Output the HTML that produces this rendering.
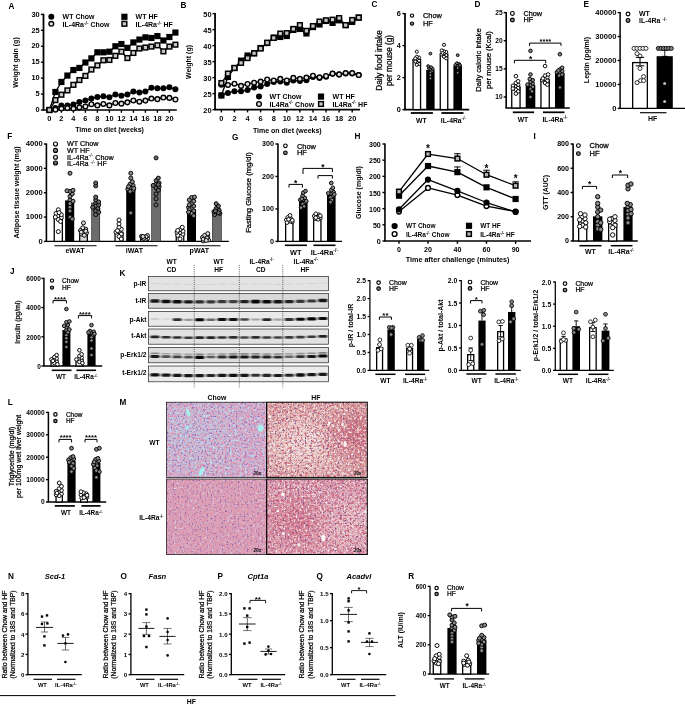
<!DOCTYPE html>
<html lang="en"><head><meta charset="utf-8"><title>Figure</title>
<style>html,body{margin:0;padding:0;background:#fff}svg{display:block}text{font-family:"Liberation Sans", Arial, sans-serif;fill:#000}</style></head>
<body>
<svg width="685" height="705" viewBox="0 0 685 705">
<defs><filter id="bl" x="-5%" y="-50%" width="110%" height="200%"><feGaussianBlur stdDeviation="0.85 0.7"/></filter><clipPath id="kc0"><rect x="148.8" y="277.00" width="179.2" height="13.40"/></clipPath><clipPath id="kc1"><rect x="148.8" y="294.00" width="179.2" height="13.80"/></clipPath><clipPath id="kc2"><rect x="148.8" y="312.00" width="179.2" height="13.80"/></clipPath><clipPath id="kc3"><rect x="148.8" y="329.40" width="179.2" height="14.40"/></clipPath><clipPath id="kc4"><rect x="148.8" y="347.80" width="179.2" height="14.60"/></clipPath><clipPath id="kc5"><rect x="148.8" y="366.40" width="179.2" height="15.00"/></clipPath><filter id="nPurp" x="0" y="0" width="100%" height="100%" color-interpolation-filters="sRGB"><feTurbulence type="fractalNoise" baseFrequency="0.55" numOctaves="2" seed="3"/><feColorMatrix type="matrix" values="0 0 0 0 0.560  0 0 0 0 0.400  0 0 0 0 0.740  4.00 0 0 0 -2.20"/><feGaussianBlur stdDeviation="0.30"/></filter><filter id="nPurp2" x="0" y="0" width="100%" height="100%" color-interpolation-filters="sRGB"><feTurbulence type="fractalNoise" baseFrequency="0.55" numOctaves="2" seed="33"/><feColorMatrix type="matrix" values="0 0 0 0 0.600  0 0 0 0 0.380  0 0 0 0 0.680  4.00 0 0 0 -2.25"/><feGaussianBlur stdDeviation="0.30"/></filter><filter id="nCyan" x="0" y="0" width="100%" height="100%" color-interpolation-filters="sRGB"><feTurbulence type="fractalNoise" baseFrequency="0.4" numOctaves="2" seed="11"/><feColorMatrix type="matrix" values="0 0 0 0 0.740  0 0 0 0 0.880  0 0 0 0 0.940  4.00 0 0 0 -2.10"/><feGaussianBlur stdDeviation="0.30"/></filter><filter id="nCyan2" x="0" y="0" width="100%" height="100%" color-interpolation-filters="sRGB"><feTurbulence type="fractalNoise" baseFrequency="0.4" numOctaves="2" seed="12"/><feColorMatrix type="matrix" values="0 0 0 0 0.840  0 0 0 0 0.860  0 0 0 0 0.930  4.00 0 0 0 -2.40"/><feGaussianBlur stdDeviation="0.30"/></filter><filter id="nPink" x="0" y="0" width="100%" height="100%" color-interpolation-filters="sRGB"><feTurbulence type="fractalNoise" baseFrequency="0.45" numOctaves="2" seed="5"/><feColorMatrix type="matrix" values="0 0 0 0 0.930  0 0 0 0 0.580  0 0 0 0 0.680  4.00 0 0 0 -1.90"/><feGaussianBlur stdDeviation="0.30"/></filter><filter id="nPink2" x="0" y="0" width="100%" height="100%" color-interpolation-filters="sRGB"><feTurbulence type="fractalNoise" baseFrequency="0.45" numOctaves="2" seed="6"/><feColorMatrix type="matrix" values="0 0 0 0 0.900  0 0 0 0 0.580  0 0 0 0 0.660  4.00 0 0 0 -1.90"/><feGaussianBlur stdDeviation="0.30"/></filter><filter id="nWhite" x="0" y="0" width="100%" height="100%" color-interpolation-filters="sRGB"><feTurbulence type="fractalNoise" baseFrequency="0.5" numOctaves="2" seed="21"/><feColorMatrix type="matrix" values="0 0 0 0 0.970  0 0 0 0 0.930  0 0 0 0 0.900  4.00 0 0 0 -2.05"/><feGaussianBlur stdDeviation="0.30"/></filter><filter id="nWhite2" x="0" y="0" width="100%" height="100%" color-interpolation-filters="sRGB"><feTurbulence type="fractalNoise" baseFrequency="0.32" numOctaves="2" seed="8"/><feColorMatrix type="matrix" values="0 0 0 0 0.960  0 0 0 0 0.900  0 0 0 0 0.870  4.00 0 0 0 -2.05"/><feGaussianBlur stdDeviation="0.30"/></filter><filter id="nWhiteB" x="0" y="0" width="100%" height="100%" color-interpolation-filters="sRGB"><feTurbulence type="fractalNoise" baseFrequency="0.5" numOctaves="2" seed="22"/><feColorMatrix type="matrix" values="0 0 0 0 0.970  0 0 0 0 0.930  0 0 0 0 0.920  4.00 0 0 0 -2.15"/><feGaussianBlur stdDeviation="0.30"/></filter><filter id="nWhiteB2" x="0" y="0" width="100%" height="100%" color-interpolation-filters="sRGB"><feTurbulence type="fractalNoise" baseFrequency="0.32" numOctaves="2" seed="9"/><feColorMatrix type="matrix" values="0 0 0 0 0.960  0 0 0 0 0.900  0 0 0 0 0.900  4.00 0 0 0 -2.30"/><feGaussianBlur stdDeviation="0.30"/></filter><filter id="nRed" x="0" y="0" width="100%" height="100%" color-interpolation-filters="sRGB"><feTurbulence type="fractalNoise" baseFrequency="0.4" numOctaves="2" seed="17"/><feColorMatrix type="matrix" values="0 0 0 0 0.820  0 0 0 0 0.400  0 0 0 0 0.460  4.00 0 0 0 -2.00"/><feGaussianBlur stdDeviation="0.30"/></filter><filter id="nRedB" x="0" y="0" width="100%" height="100%" color-interpolation-filters="sRGB"><feTurbulence type="fractalNoise" baseFrequency="0.4" numOctaves="2" seed="18"/><feColorMatrix type="matrix" values="0 0 0 0 0.820  0 0 0 0 0.360  0 0 0 0 0.460  4.00 0 0 0 -2.00"/><feGaussianBlur stdDeviation="0.30"/></filter><filter id="nDark" x="0" y="0" width="100%" height="100%" color-interpolation-filters="sRGB"><feTurbulence type="fractalNoise" baseFrequency="0.6" numOctaves="2" seed="29"/><feColorMatrix type="matrix" values="0 0 0 0 0.500  0 0 0 0 0.330  0 0 0 0 0.550  4.00 0 0 0 -2.20"/><feGaussianBlur stdDeviation="0.30"/></filter><radialGradient id="gPale" cx="0.38" cy="0.55" r="0.55"><stop offset="0" stop-color="#f3e6e2" stop-opacity="0.9"/><stop offset="1" stop-color="#f3e4df" stop-opacity="0"/></radialGradient><radialGradient id="gRed" cx="0.88" cy="0.45" r="0.42"><stop offset="0" stop-color="#c4546c" stop-opacity="0.75"/><stop offset="1" stop-color="#c4546c" stop-opacity="0"/></radialGradient><radialGradient id="gRed2" cx="0.3" cy="0.55" r="0.45"><stop offset="0" stop-color="#c84a68" stop-opacity="0.4"/><stop offset="1" stop-color="#c84a68" stop-opacity="0"/></radialGradient><radialGradient id="gPale2" cx="0.8" cy="0.6" r="0.45"><stop offset="0" stop-color="#f0dcdc" stop-opacity="0.55"/><stop offset="1" stop-color="#f0dcdc" stop-opacity="0"/></radialGradient><radialGradient id="gBlue" cx="0.25" cy="0.45" r="0.7"><stop offset="0" stop-color="#b4d2e6" stop-opacity="0.55"/><stop offset="1" stop-color="#b4d2e6" stop-opacity="0"/></radialGradient></defs>
<rect width="685" height="705" fill="#fff"/>
<g>
<text x="8.60" y="8.80" font-size="8.20" font-weight="bold">A</text>
<line x1="43.50" y1="13.80" x2="43.50" y2="110.50" stroke="#000" stroke-width="1.80"/>
<line x1="40.90" y1="110.00" x2="43.50" y2="110.00" stroke="#000" stroke-width="1.40"/>
<text x="39.70" y="112.22" font-size="7.40" text-anchor="end" font-weight="bold">0</text>
<line x1="40.90" y1="94.07" x2="43.50" y2="94.07" stroke="#000" stroke-width="1.40"/>
<text x="39.70" y="96.29" font-size="7.40" text-anchor="end" font-weight="bold">5</text>
<line x1="40.90" y1="78.13" x2="43.50" y2="78.13" stroke="#000" stroke-width="1.40"/>
<text x="39.70" y="80.35" font-size="7.40" text-anchor="end" font-weight="bold">10</text>
<line x1="40.90" y1="62.20" x2="43.50" y2="62.20" stroke="#000" stroke-width="1.40"/>
<text x="39.70" y="64.42" font-size="7.40" text-anchor="end" font-weight="bold">15</text>
<line x1="40.90" y1="46.27" x2="43.50" y2="46.27" stroke="#000" stroke-width="1.40"/>
<text x="39.70" y="48.49" font-size="7.40" text-anchor="end" font-weight="bold">20</text>
<line x1="40.90" y1="30.33" x2="43.50" y2="30.33" stroke="#000" stroke-width="1.40"/>
<text x="39.70" y="32.55" font-size="7.40" text-anchor="end" font-weight="bold">25</text>
<line x1="40.90" y1="14.40" x2="43.50" y2="14.40" stroke="#000" stroke-width="1.40"/>
<text x="39.70" y="16.62" font-size="7.40" text-anchor="end" font-weight="bold">30</text>
<line x1="42.60" y1="110.00" x2="176.80" y2="110.00" stroke="#000" stroke-width="1.70"/>
<line x1="49.40" y1="110.00" x2="49.40" y2="112.80" stroke="#000" stroke-width="1.40"/>
<text x="49.40" y="120.80" font-size="7.40" text-anchor="middle" font-weight="bold">0</text>
<line x1="61.40" y1="110.00" x2="61.40" y2="112.80" stroke="#000" stroke-width="1.40"/>
<text x="61.40" y="120.80" font-size="7.40" text-anchor="middle" font-weight="bold">2</text>
<line x1="73.40" y1="110.00" x2="73.40" y2="112.80" stroke="#000" stroke-width="1.40"/>
<text x="73.40" y="120.80" font-size="7.40" text-anchor="middle" font-weight="bold">4</text>
<line x1="85.40" y1="110.00" x2="85.40" y2="112.80" stroke="#000" stroke-width="1.40"/>
<text x="85.40" y="120.80" font-size="7.40" text-anchor="middle" font-weight="bold">6</text>
<line x1="97.40" y1="110.00" x2="97.40" y2="112.80" stroke="#000" stroke-width="1.40"/>
<text x="97.40" y="120.80" font-size="7.40" text-anchor="middle" font-weight="bold">8</text>
<line x1="109.40" y1="110.00" x2="109.40" y2="112.80" stroke="#000" stroke-width="1.40"/>
<text x="109.40" y="120.80" font-size="7.40" text-anchor="middle" font-weight="bold">10</text>
<line x1="121.40" y1="110.00" x2="121.40" y2="112.80" stroke="#000" stroke-width="1.40"/>
<text x="121.40" y="120.80" font-size="7.40" text-anchor="middle" font-weight="bold">12</text>
<line x1="133.40" y1="110.00" x2="133.40" y2="112.80" stroke="#000" stroke-width="1.40"/>
<text x="133.40" y="120.80" font-size="7.40" text-anchor="middle" font-weight="bold">14</text>
<line x1="145.40" y1="110.00" x2="145.40" y2="112.80" stroke="#000" stroke-width="1.40"/>
<text x="145.40" y="120.80" font-size="7.40" text-anchor="middle" font-weight="bold">16</text>
<line x1="157.40" y1="110.00" x2="157.40" y2="112.80" stroke="#000" stroke-width="1.40"/>
<text x="157.40" y="120.80" font-size="7.40" text-anchor="middle" font-weight="bold">18</text>
<line x1="169.40" y1="110.00" x2="169.40" y2="112.80" stroke="#000" stroke-width="1.40"/>
<text x="169.40" y="120.80" font-size="7.40" text-anchor="middle" font-weight="bold">20</text>
<text x="109.60" y="132.00" font-size="7.00" text-anchor="middle" font-weight="bold">Time on diet (weeks)</text>
<text x="18.20" y="62.50" font-size="7.00" text-anchor="middle" font-weight="bold" transform="rotate(-90 18.20 62.50)">Weight gain (g)</text>
<polyline points="49.40,110.00 55.40,108.09 61.40,105.54 67.40,105.54 73.40,104.42 79.40,102.03 85.40,100.44 91.40,98.53 97.40,96.93 103.40,96.30 109.40,97.25 115.40,94.39 121.40,95.66 127.40,94.39 133.40,91.52 139.40,92.47 145.40,91.52 151.40,87.69 157.40,88.33 163.40,88.33 169.40,87.37 175.40,89.29" fill="none" stroke="#000" stroke-width="1.30" stroke-linejoin="round"/>
<circle cx="49.40" cy="110.00" r="3.00" fill="#000"/>
<circle cx="55.40" cy="108.09" r="3.00" fill="#000"/>
<circle cx="61.40" cy="105.54" r="3.00" fill="#000"/>
<circle cx="67.40" cy="105.54" r="3.00" fill="#000"/>
<circle cx="73.40" cy="104.42" r="3.00" fill="#000"/>
<circle cx="79.40" cy="102.03" r="3.00" fill="#000"/>
<circle cx="85.40" cy="100.44" r="3.00" fill="#000"/>
<circle cx="91.40" cy="98.53" r="3.00" fill="#000"/>
<circle cx="97.40" cy="96.93" r="3.00" fill="#000"/>
<circle cx="103.40" cy="96.30" r="3.00" fill="#000"/>
<circle cx="109.40" cy="97.25" r="3.00" fill="#000"/>
<circle cx="115.40" cy="94.39" r="3.00" fill="#000"/>
<circle cx="121.40" cy="95.66" r="3.00" fill="#000"/>
<circle cx="127.40" cy="94.39" r="3.00" fill="#000"/>
<circle cx="133.40" cy="91.52" r="3.00" fill="#000"/>
<circle cx="139.40" cy="92.47" r="3.00" fill="#000"/>
<circle cx="145.40" cy="91.52" r="3.00" fill="#000"/>
<circle cx="151.40" cy="87.69" r="3.00" fill="#000"/>
<circle cx="157.40" cy="88.33" r="3.00" fill="#000"/>
<circle cx="163.40" cy="88.33" r="3.00" fill="#000"/>
<circle cx="169.40" cy="87.37" r="3.00" fill="#000"/>
<circle cx="175.40" cy="89.29" r="3.00" fill="#000"/>
<polyline points="49.40,110.00 55.40,109.68 61.40,108.57 67.40,108.09 73.40,108.57 79.40,107.45 85.40,106.49 91.40,104.26 97.40,105.38 103.40,103.95 109.40,105.38 115.40,102.99 121.40,103.63 127.40,102.35 133.40,100.44 139.40,101.71 145.40,100.60 151.40,98.53 157.40,99.17 163.40,97.57 169.40,97.89 175.40,99.48" fill="none" stroke="#000" stroke-width="1.30" stroke-linejoin="round"/>
<circle cx="49.40" cy="110.00" r="2.35" fill="#e2e2e2" stroke="#000" stroke-width="1.40"/>
<circle cx="55.40" cy="109.68" r="2.35" fill="#e2e2e2" stroke="#000" stroke-width="1.40"/>
<circle cx="61.40" cy="108.57" r="2.35" fill="#e2e2e2" stroke="#000" stroke-width="1.40"/>
<circle cx="67.40" cy="108.09" r="2.35" fill="#e2e2e2" stroke="#000" stroke-width="1.40"/>
<circle cx="73.40" cy="108.57" r="2.35" fill="#e2e2e2" stroke="#000" stroke-width="1.40"/>
<circle cx="79.40" cy="107.45" r="2.35" fill="#e2e2e2" stroke="#000" stroke-width="1.40"/>
<circle cx="85.40" cy="106.49" r="2.35" fill="#e2e2e2" stroke="#000" stroke-width="1.40"/>
<circle cx="91.40" cy="104.26" r="2.35" fill="#e2e2e2" stroke="#000" stroke-width="1.40"/>
<circle cx="97.40" cy="105.38" r="2.35" fill="#e2e2e2" stroke="#000" stroke-width="1.40"/>
<circle cx="103.40" cy="103.95" r="2.35" fill="#e2e2e2" stroke="#000" stroke-width="1.40"/>
<circle cx="109.40" cy="105.38" r="2.35" fill="#e2e2e2" stroke="#000" stroke-width="1.40"/>
<circle cx="115.40" cy="102.99" r="2.35" fill="#e2e2e2" stroke="#000" stroke-width="1.40"/>
<circle cx="121.40" cy="103.63" r="2.35" fill="#e2e2e2" stroke="#000" stroke-width="1.40"/>
<circle cx="127.40" cy="102.35" r="2.35" fill="#e2e2e2" stroke="#000" stroke-width="1.40"/>
<circle cx="133.40" cy="100.44" r="2.35" fill="#e2e2e2" stroke="#000" stroke-width="1.40"/>
<circle cx="139.40" cy="101.71" r="2.35" fill="#e2e2e2" stroke="#000" stroke-width="1.40"/>
<circle cx="145.40" cy="100.60" r="2.35" fill="#e2e2e2" stroke="#000" stroke-width="1.40"/>
<circle cx="151.40" cy="98.53" r="2.35" fill="#e2e2e2" stroke="#000" stroke-width="1.40"/>
<circle cx="157.40" cy="99.17" r="2.35" fill="#e2e2e2" stroke="#000" stroke-width="1.40"/>
<circle cx="163.40" cy="97.57" r="2.35" fill="#e2e2e2" stroke="#000" stroke-width="1.40"/>
<circle cx="169.40" cy="97.89" r="2.35" fill="#e2e2e2" stroke="#000" stroke-width="1.40"/>
<circle cx="175.40" cy="99.48" r="2.35" fill="#e2e2e2" stroke="#000" stroke-width="1.40"/>
<polyline points="49.40,110.00 55.40,92.00 61.40,81.96 67.40,75.58 73.40,70.01 79.40,67.94 85.40,62.52 91.40,58.38 97.40,52.32 103.40,52.32 109.40,51.68 115.40,46.27 121.40,44.04 127.40,47.86 133.40,42.44 139.40,39.57 145.40,37.34 151.40,37.98 157.40,36.07 163.40,40.53 169.40,37.03 175.40,32.56" fill="none" stroke="#000" stroke-width="1.30" stroke-linejoin="round"/>
<rect x="46.30" y="106.90" width="6.20" height="6.20" fill="#000"/>
<rect x="52.30" y="88.90" width="6.20" height="6.20" fill="#000"/>
<rect x="58.30" y="78.86" width="6.20" height="6.20" fill="#000"/>
<rect x="64.30" y="72.48" width="6.20" height="6.20" fill="#000"/>
<rect x="70.30" y="66.91" width="6.20" height="6.20" fill="#000"/>
<rect x="76.30" y="64.84" width="6.20" height="6.20" fill="#000"/>
<rect x="82.30" y="59.42" width="6.20" height="6.20" fill="#000"/>
<rect x="88.30" y="55.28" width="6.20" height="6.20" fill="#000"/>
<rect x="94.30" y="49.22" width="6.20" height="6.20" fill="#000"/>
<rect x="100.30" y="49.22" width="6.20" height="6.20" fill="#000"/>
<rect x="106.30" y="48.58" width="6.20" height="6.20" fill="#000"/>
<rect x="112.30" y="43.17" width="6.20" height="6.20" fill="#000"/>
<rect x="118.30" y="40.94" width="6.20" height="6.20" fill="#000"/>
<rect x="124.30" y="44.76" width="6.20" height="6.20" fill="#000"/>
<rect x="130.30" y="39.34" width="6.20" height="6.20" fill="#000"/>
<rect x="136.30" y="36.47" width="6.20" height="6.20" fill="#000"/>
<rect x="142.30" y="34.24" width="6.20" height="6.20" fill="#000"/>
<rect x="148.30" y="34.88" width="6.20" height="6.20" fill="#000"/>
<rect x="154.30" y="32.97" width="6.20" height="6.20" fill="#000"/>
<rect x="160.30" y="37.43" width="6.20" height="6.20" fill="#000"/>
<rect x="166.30" y="33.93" width="6.20" height="6.20" fill="#000"/>
<rect x="172.30" y="29.46" width="6.20" height="6.20" fill="#000"/>
<polyline points="49.40,110.00 55.40,100.12 61.40,94.70 67.40,90.40 73.40,84.83 79.40,80.05 85.40,75.90 91.40,69.53 97.40,65.39 103.40,60.29 109.40,59.97 115.40,55.83 121.40,51.68 127.40,58.06 133.40,52.96 139.40,48.50 145.40,47.54 151.40,46.59 157.40,45.31 163.40,51.37 169.40,46.59 175.40,44.67" fill="none" stroke="#000" stroke-width="1.30" stroke-linejoin="round"/>
<rect x="47.05" y="107.65" width="4.70" height="4.70" fill="#c8c8c8" stroke="#000" stroke-width="1.50"/>
<rect x="53.05" y="97.77" width="4.70" height="4.70" fill="#c8c8c8" stroke="#000" stroke-width="1.50"/>
<rect x="59.05" y="92.35" width="4.70" height="4.70" fill="#c8c8c8" stroke="#000" stroke-width="1.50"/>
<rect x="65.05" y="88.05" width="4.70" height="4.70" fill="#c8c8c8" stroke="#000" stroke-width="1.50"/>
<rect x="71.05" y="82.48" width="4.70" height="4.70" fill="#c8c8c8" stroke="#000" stroke-width="1.50"/>
<rect x="77.05" y="77.70" width="4.70" height="4.70" fill="#c8c8c8" stroke="#000" stroke-width="1.50"/>
<rect x="83.05" y="73.55" width="4.70" height="4.70" fill="#c8c8c8" stroke="#000" stroke-width="1.50"/>
<rect x="89.05" y="67.18" width="4.70" height="4.70" fill="#c8c8c8" stroke="#000" stroke-width="1.50"/>
<rect x="95.05" y="63.04" width="4.70" height="4.70" fill="#c8c8c8" stroke="#000" stroke-width="1.50"/>
<rect x="101.05" y="57.94" width="4.70" height="4.70" fill="#c8c8c8" stroke="#000" stroke-width="1.50"/>
<rect x="107.05" y="57.62" width="4.70" height="4.70" fill="#c8c8c8" stroke="#000" stroke-width="1.50"/>
<rect x="113.05" y="53.48" width="4.70" height="4.70" fill="#c8c8c8" stroke="#000" stroke-width="1.50"/>
<rect x="119.05" y="49.33" width="4.70" height="4.70" fill="#c8c8c8" stroke="#000" stroke-width="1.50"/>
<rect x="125.05" y="55.71" width="4.70" height="4.70" fill="#c8c8c8" stroke="#000" stroke-width="1.50"/>
<rect x="131.05" y="50.61" width="4.70" height="4.70" fill="#c8c8c8" stroke="#000" stroke-width="1.50"/>
<rect x="137.05" y="46.15" width="4.70" height="4.70" fill="#c8c8c8" stroke="#000" stroke-width="1.50"/>
<rect x="143.05" y="45.19" width="4.70" height="4.70" fill="#c8c8c8" stroke="#000" stroke-width="1.50"/>
<rect x="149.05" y="44.24" width="4.70" height="4.70" fill="#c8c8c8" stroke="#000" stroke-width="1.50"/>
<rect x="155.05" y="42.96" width="4.70" height="4.70" fill="#c8c8c8" stroke="#000" stroke-width="1.50"/>
<rect x="161.05" y="49.02" width="4.70" height="4.70" fill="#c8c8c8" stroke="#000" stroke-width="1.50"/>
<rect x="167.05" y="44.24" width="4.70" height="4.70" fill="#c8c8c8" stroke="#000" stroke-width="1.50"/>
<rect x="173.05" y="42.32" width="4.70" height="4.70" fill="#c8c8c8" stroke="#000" stroke-width="1.50"/>
<circle cx="51.30" cy="16.80" r="3.00" fill="#000"/>
<text x="62.60" y="18.70" font-size="7.00" font-weight="bold">WT Chow</text>
<circle cx="51.30" cy="23.80" r="2.35" fill="#e2e2e2" stroke="#000" stroke-width="1.40"/>
<text x="62.60" y="26.90" font-size="7.00" font-weight="bold">IL-4Ra<tspan font-size="4.76" dy="-2.38" stroke-width="0">-/-</tspan><tspan dy="2.38"> Chow</tspan></text>
<rect x="121.30" y="13.70" width="6.20" height="6.20" fill="#000"/>
<text x="135.60" y="18.70" font-size="7.00" font-weight="bold">WT HF</text>
<rect x="122.05" y="21.45" width="4.70" height="4.70" fill="#c8c8c8" stroke="#000" stroke-width="1.50"/>
<text x="135.60" y="26.90" font-size="7.00" font-weight="bold">IL-4Ra<tspan font-size="4.76" dy="-2.38" stroke-width="0">-/-</tspan><tspan dy="2.38"> HF</tspan></text>
</g>
<g>
<text x="180.60" y="7.60" font-size="8.20" font-weight="bold">B</text>
<line x1="215.05" y1="13.00" x2="215.05" y2="110.10" stroke="#000" stroke-width="1.80"/>
<line x1="212.45" y1="109.60" x2="215.05" y2="109.60" stroke="#000" stroke-width="1.40"/>
<text x="211.60" y="112.72" font-size="7.40" text-anchor="end" font-weight="bold">20</text>
<line x1="212.45" y1="93.60" x2="215.05" y2="93.60" stroke="#000" stroke-width="1.40"/>
<text x="211.60" y="96.72" font-size="7.40" text-anchor="end" font-weight="bold">25</text>
<line x1="212.45" y1="77.60" x2="215.05" y2="77.60" stroke="#000" stroke-width="1.40"/>
<text x="211.60" y="80.72" font-size="7.40" text-anchor="end" font-weight="bold">30</text>
<line x1="212.45" y1="61.60" x2="215.05" y2="61.60" stroke="#000" stroke-width="1.40"/>
<text x="211.60" y="64.72" font-size="7.40" text-anchor="end" font-weight="bold">35</text>
<line x1="212.45" y1="45.60" x2="215.05" y2="45.60" stroke="#000" stroke-width="1.40"/>
<text x="211.60" y="48.72" font-size="7.40" text-anchor="end" font-weight="bold">40</text>
<line x1="212.45" y1="29.60" x2="215.05" y2="29.60" stroke="#000" stroke-width="1.40"/>
<text x="211.60" y="32.72" font-size="7.40" text-anchor="end" font-weight="bold">45</text>
<line x1="212.45" y1="13.60" x2="215.05" y2="13.60" stroke="#000" stroke-width="1.40"/>
<text x="211.60" y="16.72" font-size="7.40" text-anchor="end" font-weight="bold">50</text>
<line x1="214.15" y1="109.60" x2="360.00" y2="109.60" stroke="#000" stroke-width="1.70"/>
<line x1="221.40" y1="109.60" x2="221.40" y2="112.40" stroke="#000" stroke-width="1.40"/>
<text x="221.40" y="120.60" font-size="7.40" text-anchor="middle" font-weight="bold">0</text>
<line x1="234.48" y1="109.60" x2="234.48" y2="112.40" stroke="#000" stroke-width="1.40"/>
<text x="234.48" y="120.60" font-size="7.40" text-anchor="middle" font-weight="bold">2</text>
<line x1="247.56" y1="109.60" x2="247.56" y2="112.40" stroke="#000" stroke-width="1.40"/>
<text x="247.56" y="120.60" font-size="7.40" text-anchor="middle" font-weight="bold">4</text>
<line x1="260.64" y1="109.60" x2="260.64" y2="112.40" stroke="#000" stroke-width="1.40"/>
<text x="260.64" y="120.60" font-size="7.40" text-anchor="middle" font-weight="bold">6</text>
<line x1="273.72" y1="109.60" x2="273.72" y2="112.40" stroke="#000" stroke-width="1.40"/>
<text x="273.72" y="120.60" font-size="7.40" text-anchor="middle" font-weight="bold">8</text>
<line x1="286.80" y1="109.60" x2="286.80" y2="112.40" stroke="#000" stroke-width="1.40"/>
<text x="286.80" y="120.60" font-size="7.40" text-anchor="middle" font-weight="bold">10</text>
<line x1="299.88" y1="109.60" x2="299.88" y2="112.40" stroke="#000" stroke-width="1.40"/>
<text x="299.88" y="120.60" font-size="7.40" text-anchor="middle" font-weight="bold">12</text>
<line x1="312.96" y1="109.60" x2="312.96" y2="112.40" stroke="#000" stroke-width="1.40"/>
<text x="312.96" y="120.60" font-size="7.40" text-anchor="middle" font-weight="bold">14</text>
<line x1="326.04" y1="109.60" x2="326.04" y2="112.40" stroke="#000" stroke-width="1.40"/>
<text x="326.04" y="120.60" font-size="7.40" text-anchor="middle" font-weight="bold">16</text>
<line x1="339.12" y1="109.60" x2="339.12" y2="112.40" stroke="#000" stroke-width="1.40"/>
<text x="339.12" y="120.60" font-size="7.40" text-anchor="middle" font-weight="bold">18</text>
<line x1="352.20" y1="109.60" x2="352.20" y2="112.40" stroke="#000" stroke-width="1.40"/>
<text x="352.20" y="120.60" font-size="7.40" text-anchor="middle" font-weight="bold">20</text>
<text x="287.30" y="133.00" font-size="7.00" text-anchor="middle" font-weight="bold">Time on diet (weeks)</text>
<text x="191.00" y="62.00" font-size="7.00" text-anchor="middle" font-weight="bold" transform="rotate(-90 191.00 62.00)">Weight (g)</text>
<polyline points="221.40,95.20 227.94,92.96 234.48,91.36 241.02,91.36 247.56,90.08 254.10,87.52 260.64,86.40 267.18,84.00 273.72,82.08 280.26,81.44 286.80,82.72 293.34,80.48 299.88,81.12 306.42,80.16 312.96,76.96 319.50,77.92 326.04,76.64 332.58,73.76 339.12,74.40 345.66,73.44 352.20,73.44 358.74,75.04" fill="none" stroke="#000" stroke-width="1.30" stroke-linejoin="round"/>
<circle cx="221.40" cy="95.20" r="3.00" fill="#000"/>
<circle cx="227.94" cy="92.96" r="3.00" fill="#000"/>
<circle cx="234.48" cy="91.36" r="3.00" fill="#000"/>
<circle cx="241.02" cy="91.36" r="3.00" fill="#000"/>
<circle cx="247.56" cy="90.08" r="3.00" fill="#000"/>
<circle cx="254.10" cy="87.52" r="3.00" fill="#000"/>
<circle cx="260.64" cy="86.40" r="3.00" fill="#000"/>
<circle cx="267.18" cy="84.00" r="3.00" fill="#000"/>
<circle cx="273.72" cy="82.08" r="3.00" fill="#000"/>
<circle cx="280.26" cy="81.44" r="3.00" fill="#000"/>
<circle cx="286.80" cy="82.72" r="3.00" fill="#000"/>
<circle cx="293.34" cy="80.48" r="3.00" fill="#000"/>
<circle cx="299.88" cy="81.12" r="3.00" fill="#000"/>
<circle cx="306.42" cy="80.16" r="3.00" fill="#000"/>
<circle cx="312.96" cy="76.96" r="3.00" fill="#000"/>
<circle cx="319.50" cy="77.92" r="3.00" fill="#000"/>
<circle cx="326.04" cy="76.64" r="3.00" fill="#000"/>
<circle cx="332.58" cy="73.76" r="3.00" fill="#000"/>
<circle cx="339.12" cy="74.40" r="3.00" fill="#000"/>
<circle cx="345.66" cy="73.44" r="3.00" fill="#000"/>
<circle cx="352.20" cy="73.44" r="3.00" fill="#000"/>
<circle cx="358.74" cy="75.04" r="3.00" fill="#000"/>
<polyline points="221.40,84.64 227.94,84.96 234.48,83.68 241.02,85.92 247.56,84.00 254.10,82.72 260.64,81.60 267.18,79.52 273.72,80.48 280.26,78.88 286.80,80.48 293.34,77.92 299.88,78.88 306.42,77.60 312.96,75.68 319.50,77.28 326.04,76.00 332.58,73.60 339.12,74.40 345.66,73.12 352.20,73.12 358.74,75.04" fill="none" stroke="#000" stroke-width="1.30" stroke-linejoin="round"/>
<circle cx="221.40" cy="84.64" r="2.35" fill="#e2e2e2" stroke="#000" stroke-width="1.40"/>
<circle cx="227.94" cy="84.96" r="2.35" fill="#e2e2e2" stroke="#000" stroke-width="1.40"/>
<circle cx="234.48" cy="83.68" r="2.35" fill="#e2e2e2" stroke="#000" stroke-width="1.40"/>
<circle cx="241.02" cy="85.92" r="2.35" fill="#e2e2e2" stroke="#000" stroke-width="1.40"/>
<circle cx="247.56" cy="84.00" r="2.35" fill="#e2e2e2" stroke="#000" stroke-width="1.40"/>
<circle cx="254.10" cy="82.72" r="2.35" fill="#e2e2e2" stroke="#000" stroke-width="1.40"/>
<circle cx="260.64" cy="81.60" r="2.35" fill="#e2e2e2" stroke="#000" stroke-width="1.40"/>
<circle cx="267.18" cy="79.52" r="2.35" fill="#e2e2e2" stroke="#000" stroke-width="1.40"/>
<circle cx="273.72" cy="80.48" r="2.35" fill="#e2e2e2" stroke="#000" stroke-width="1.40"/>
<circle cx="280.26" cy="78.88" r="2.35" fill="#e2e2e2" stroke="#000" stroke-width="1.40"/>
<circle cx="286.80" cy="80.48" r="2.35" fill="#e2e2e2" stroke="#000" stroke-width="1.40"/>
<circle cx="293.34" cy="77.92" r="2.35" fill="#e2e2e2" stroke="#000" stroke-width="1.40"/>
<circle cx="299.88" cy="78.88" r="2.35" fill="#e2e2e2" stroke="#000" stroke-width="1.40"/>
<circle cx="306.42" cy="77.60" r="2.35" fill="#e2e2e2" stroke="#000" stroke-width="1.40"/>
<circle cx="312.96" cy="75.68" r="2.35" fill="#e2e2e2" stroke="#000" stroke-width="1.40"/>
<circle cx="319.50" cy="77.28" r="2.35" fill="#e2e2e2" stroke="#000" stroke-width="1.40"/>
<circle cx="326.04" cy="76.00" r="2.35" fill="#e2e2e2" stroke="#000" stroke-width="1.40"/>
<circle cx="332.58" cy="73.60" r="2.35" fill="#e2e2e2" stroke="#000" stroke-width="1.40"/>
<circle cx="339.12" cy="74.40" r="2.35" fill="#e2e2e2" stroke="#000" stroke-width="1.40"/>
<circle cx="345.66" cy="73.12" r="2.35" fill="#e2e2e2" stroke="#000" stroke-width="1.40"/>
<circle cx="352.20" cy="73.12" r="2.35" fill="#e2e2e2" stroke="#000" stroke-width="1.40"/>
<circle cx="358.74" cy="75.04" r="2.35" fill="#e2e2e2" stroke="#000" stroke-width="1.40"/>
<polyline points="221.40,95.52 227.94,76.96 234.48,68.00 241.02,60.64 247.56,55.52 254.10,53.28 260.64,48.00 267.18,43.04 273.72,37.60 280.26,36.96 286.80,36.00 293.34,29.92 299.88,28.96 306.42,33.44 312.96,27.04 319.50,24.48 326.04,20.96 332.58,22.88 339.12,20.32 345.66,25.12 352.20,21.92 358.74,17.60" fill="none" stroke="#000" stroke-width="1.30" stroke-linejoin="round"/>
<rect x="218.30" y="92.42" width="6.20" height="6.20" fill="#000"/>
<rect x="224.84" y="73.86" width="6.20" height="6.20" fill="#000"/>
<rect x="231.38" y="64.90" width="6.20" height="6.20" fill="#000"/>
<rect x="237.92" y="57.54" width="6.20" height="6.20" fill="#000"/>
<rect x="244.46" y="52.42" width="6.20" height="6.20" fill="#000"/>
<rect x="251.00" y="50.18" width="6.20" height="6.20" fill="#000"/>
<rect x="257.54" y="44.90" width="6.20" height="6.20" fill="#000"/>
<rect x="264.08" y="39.94" width="6.20" height="6.20" fill="#000"/>
<rect x="270.62" y="34.50" width="6.20" height="6.20" fill="#000"/>
<rect x="277.16" y="33.86" width="6.20" height="6.20" fill="#000"/>
<rect x="283.70" y="32.90" width="6.20" height="6.20" fill="#000"/>
<rect x="290.24" y="26.82" width="6.20" height="6.20" fill="#000"/>
<rect x="296.78" y="25.86" width="6.20" height="6.20" fill="#000"/>
<rect x="303.32" y="30.34" width="6.20" height="6.20" fill="#000"/>
<rect x="309.86" y="23.94" width="6.20" height="6.20" fill="#000"/>
<rect x="316.40" y="21.38" width="6.20" height="6.20" fill="#000"/>
<rect x="322.94" y="17.86" width="6.20" height="6.20" fill="#000"/>
<rect x="329.48" y="19.78" width="6.20" height="6.20" fill="#000"/>
<rect x="336.02" y="17.22" width="6.20" height="6.20" fill="#000"/>
<rect x="342.56" y="22.02" width="6.20" height="6.20" fill="#000"/>
<rect x="349.10" y="18.82" width="6.20" height="6.20" fill="#000"/>
<rect x="355.64" y="14.50" width="6.20" height="6.20" fill="#000"/>
<polyline points="221.40,83.04 227.94,73.60 234.48,68.00 241.02,62.88 247.56,58.08 254.10,53.28 260.64,48.48 267.18,42.72 273.72,37.92 280.26,33.60 286.80,33.12 293.34,28.96 299.88,25.12 306.42,30.88 312.96,26.08 319.50,21.60 326.04,20.32 332.58,19.68 339.12,18.08 345.66,25.12 352.20,20.00 358.74,17.60" fill="none" stroke="#000" stroke-width="1.30" stroke-linejoin="round"/>
<rect x="219.05" y="80.69" width="4.70" height="4.70" fill="#c8c8c8" stroke="#000" stroke-width="1.50"/>
<rect x="225.59" y="71.25" width="4.70" height="4.70" fill="#c8c8c8" stroke="#000" stroke-width="1.50"/>
<rect x="232.13" y="65.65" width="4.70" height="4.70" fill="#c8c8c8" stroke="#000" stroke-width="1.50"/>
<rect x="238.67" y="60.53" width="4.70" height="4.70" fill="#c8c8c8" stroke="#000" stroke-width="1.50"/>
<rect x="245.21" y="55.73" width="4.70" height="4.70" fill="#c8c8c8" stroke="#000" stroke-width="1.50"/>
<rect x="251.75" y="50.93" width="4.70" height="4.70" fill="#c8c8c8" stroke="#000" stroke-width="1.50"/>
<rect x="258.29" y="46.13" width="4.70" height="4.70" fill="#c8c8c8" stroke="#000" stroke-width="1.50"/>
<rect x="264.83" y="40.37" width="4.70" height="4.70" fill="#c8c8c8" stroke="#000" stroke-width="1.50"/>
<rect x="271.37" y="35.57" width="4.70" height="4.70" fill="#c8c8c8" stroke="#000" stroke-width="1.50"/>
<rect x="277.91" y="31.25" width="4.70" height="4.70" fill="#c8c8c8" stroke="#000" stroke-width="1.50"/>
<rect x="284.45" y="30.77" width="4.70" height="4.70" fill="#c8c8c8" stroke="#000" stroke-width="1.50"/>
<rect x="290.99" y="26.61" width="4.70" height="4.70" fill="#c8c8c8" stroke="#000" stroke-width="1.50"/>
<rect x="297.53" y="22.77" width="4.70" height="4.70" fill="#c8c8c8" stroke="#000" stroke-width="1.50"/>
<rect x="304.07" y="28.53" width="4.70" height="4.70" fill="#c8c8c8" stroke="#000" stroke-width="1.50"/>
<rect x="310.61" y="23.73" width="4.70" height="4.70" fill="#c8c8c8" stroke="#000" stroke-width="1.50"/>
<rect x="317.15" y="19.25" width="4.70" height="4.70" fill="#c8c8c8" stroke="#000" stroke-width="1.50"/>
<rect x="323.69" y="17.97" width="4.70" height="4.70" fill="#c8c8c8" stroke="#000" stroke-width="1.50"/>
<rect x="330.23" y="17.33" width="4.70" height="4.70" fill="#c8c8c8" stroke="#000" stroke-width="1.50"/>
<rect x="336.77" y="15.73" width="4.70" height="4.70" fill="#c8c8c8" stroke="#000" stroke-width="1.50"/>
<rect x="343.31" y="22.77" width="4.70" height="4.70" fill="#c8c8c8" stroke="#000" stroke-width="1.50"/>
<rect x="349.85" y="17.65" width="4.70" height="4.70" fill="#c8c8c8" stroke="#000" stroke-width="1.50"/>
<rect x="356.39" y="15.25" width="4.70" height="4.70" fill="#c8c8c8" stroke="#000" stroke-width="1.50"/>
<circle cx="259.00" cy="96.60" r="3.00" fill="#000"/>
<text x="269.60" y="99.00" font-size="7.00" font-weight="bold">WT Chow</text>
<circle cx="259.00" cy="104.00" r="2.35" fill="#e2e2e2" stroke="#000" stroke-width="1.40"/>
<text x="269.60" y="106.50" font-size="7.00" font-weight="bold">IL4Ra<tspan font-size="4.76" dy="-2.38" stroke-width="0">-/-</tspan><tspan dy="2.38"> Chow</tspan></text>
<rect x="317.90" y="93.50" width="6.20" height="6.20" fill="#000"/>
<text x="332.60" y="99.00" font-size="7.00" font-weight="bold">WT HF</text>
<rect x="318.65" y="101.65" width="4.70" height="4.70" fill="#c8c8c8" stroke="#000" stroke-width="1.50"/>
<text x="332.60" y="106.50" font-size="7.00" font-weight="bold">IL4Ra<tspan font-size="4.76" dy="-2.38" stroke-width="0">-/-</tspan><tspan dy="2.38"> HF</tspan></text>
</g>
<g>
<text x="371.60" y="7.00" font-size="8.20" font-weight="bold">C</text>
<line x1="405.00" y1="13.00" x2="405.00" y2="109.60" stroke="#000" stroke-width="1.75"/>
<line x1="402.43" y1="109.60" x2="405.00" y2="109.60" stroke="#000" stroke-width="1.40"/>
<text x="400.90" y="112.09" font-size="7.30" text-anchor="end" font-weight="bold">0</text>
<line x1="402.43" y1="77.60" x2="405.00" y2="77.60" stroke="#000" stroke-width="1.40"/>
<text x="400.90" y="80.09" font-size="7.30" text-anchor="end" font-weight="bold">2</text>
<line x1="402.43" y1="45.60" x2="405.00" y2="45.60" stroke="#000" stroke-width="1.40"/>
<text x="400.90" y="48.09" font-size="7.30" text-anchor="end" font-weight="bold">4</text>
<line x1="402.43" y1="13.60" x2="405.00" y2="13.60" stroke="#000" stroke-width="1.40"/>
<text x="400.90" y="16.09" font-size="7.30" text-anchor="end" font-weight="bold">6</text>
<line x1="404.12" y1="109.60" x2="469.20" y2="109.60" stroke="#000" stroke-width="1.60"/>
<rect x="413.05" y="59.69" width="7.50" height="49.91" fill="#fff" stroke="#000" stroke-width="1.30"/>
<rect x="426.20" y="69.76" width="8.40" height="39.84" fill="#000"/>
<rect x="440.25" y="54.25" width="7.50" height="55.35" fill="#fff" stroke="#000" stroke-width="1.30"/>
<rect x="453.40" y="65.60" width="8.60" height="44.00" fill="#000"/>
<circle cx="416.80" cy="59.20" r="1.55" fill="#fff" stroke="#000" stroke-width="0.95"/>
<circle cx="419.05" cy="60.80" r="1.55" fill="#fff" stroke="#000" stroke-width="0.95"/>
<circle cx="419.05" cy="57.60" r="1.55" fill="#fff" stroke="#000" stroke-width="0.95"/>
<circle cx="416.80" cy="62.40" r="1.55" fill="#fff" stroke="#000" stroke-width="0.95"/>
<circle cx="416.80" cy="56.80" r="1.55" fill="#fff" stroke="#000" stroke-width="0.95"/>
<circle cx="414.55" cy="60.00" r="1.55" fill="#fff" stroke="#000" stroke-width="0.95"/>
<circle cx="419.05" cy="64.00" r="1.55" fill="#fff" stroke="#000" stroke-width="0.95"/>
<circle cx="415.30" cy="58.40" r="1.55" fill="#fff" stroke="#000" stroke-width="0.95"/>
<circle cx="415.30" cy="61.60" r="1.55" fill="#fff" stroke="#000" stroke-width="0.95"/>
<circle cx="416.80" cy="64.80" r="1.55" fill="#fff" stroke="#000" stroke-width="0.95"/>
<circle cx="416.80" cy="51.68" r="1.55" fill="#fff" stroke="#000" stroke-width="0.95"/>
<circle cx="430.40" cy="69.60" r="1.40" fill="#8a8a8a" stroke="#000" stroke-width="0.95"/>
<circle cx="432.65" cy="68.80" r="1.40" fill="#8a8a8a" stroke="#000" stroke-width="0.95"/>
<circle cx="431.90" cy="71.20" r="1.40" fill="#8a8a8a" stroke="#000" stroke-width="0.95"/>
<circle cx="428.90" cy="68.00" r="1.40" fill="#8a8a8a" stroke="#000" stroke-width="0.95"/>
<circle cx="430.40" cy="72.80" r="1.40" fill="#8a8a8a" stroke="#000" stroke-width="0.95"/>
<circle cx="431.15" cy="67.20" r="1.40" fill="#8a8a8a" stroke="#000" stroke-width="0.95"/>
<circle cx="430.40" cy="75.20" r="1.40" fill="#8a8a8a" stroke="#000" stroke-width="0.95"/>
<circle cx="428.15" cy="66.08" r="1.40" fill="#8a8a8a" stroke="#000" stroke-width="0.95"/>
<circle cx="430.40" cy="78.40" r="1.40" fill="#8a8a8a" stroke="#000" stroke-width="0.95"/>
<circle cx="430.40" cy="53.60" r="1.40" fill="#8a8a8a" stroke="#000" stroke-width="0.95"/>
<circle cx="444.00" cy="53.60" r="1.55" fill="#fff" stroke="#000" stroke-width="0.95"/>
<circle cx="446.25" cy="55.20" r="1.55" fill="#fff" stroke="#000" stroke-width="0.95"/>
<circle cx="446.25" cy="52.00" r="1.55" fill="#fff" stroke="#000" stroke-width="0.95"/>
<circle cx="444.00" cy="56.80" r="1.55" fill="#fff" stroke="#000" stroke-width="0.95"/>
<circle cx="444.00" cy="51.20" r="1.55" fill="#fff" stroke="#000" stroke-width="0.95"/>
<circle cx="441.75" cy="54.40" r="1.55" fill="#fff" stroke="#000" stroke-width="0.95"/>
<circle cx="442.50" cy="52.80" r="1.55" fill="#fff" stroke="#000" stroke-width="0.95"/>
<circle cx="446.25" cy="58.40" r="1.55" fill="#fff" stroke="#000" stroke-width="0.95"/>
<circle cx="441.75" cy="50.40" r="1.55" fill="#fff" stroke="#000" stroke-width="0.95"/>
<circle cx="444.00" cy="44.80" r="1.55" fill="#fff" stroke="#000" stroke-width="0.95"/>
<circle cx="457.70" cy="65.60" r="1.40" fill="#8a8a8a" stroke="#000" stroke-width="0.95"/>
<circle cx="459.95" cy="66.40" r="1.40" fill="#8a8a8a" stroke="#000" stroke-width="0.95"/>
<circle cx="455.45" cy="64.80" r="1.40" fill="#8a8a8a" stroke="#000" stroke-width="0.95"/>
<circle cx="457.70" cy="68.00" r="1.40" fill="#8a8a8a" stroke="#000" stroke-width="0.95"/>
<circle cx="459.20" cy="64.00" r="1.40" fill="#8a8a8a" stroke="#000" stroke-width="0.95"/>
<circle cx="456.95" cy="63.20" r="1.40" fill="#8a8a8a" stroke="#000" stroke-width="0.95"/>
<circle cx="457.70" cy="72.80" r="1.40" fill="#8a8a8a" stroke="#000" stroke-width="0.95"/>
<circle cx="459.95" cy="65.12" r="1.40" fill="#8a8a8a" stroke="#000" stroke-width="0.95"/>
<circle cx="457.70" cy="55.20" r="1.40" fill="#8a8a8a" stroke="#000" stroke-width="0.95"/>
<line x1="410.80" y1="113.00" x2="432.90" y2="113.00" stroke="#000" stroke-width="1.80"/>
<line x1="441.40" y1="113.00" x2="463.50" y2="113.00" stroke="#000" stroke-width="1.80"/>
<text x="421.40" y="122.60" font-size="6.80" text-anchor="middle" font-weight="bold">WT</text>
<text x="453.40" y="122.60" font-size="6.80" text-anchor="middle" font-weight="bold">IL-4Ra<tspan font-size="4.62" dy="-2.31" stroke-width="0">-/-</tspan></text>
<circle cx="412.00" cy="15.60" r="1.60" fill="#fff" stroke="#000" stroke-width="1.15"/>
<circle cx="412.00" cy="23.60" r="1.60" fill="#8a8a8a" stroke="#000" stroke-width="1.15"/>
<text x="423.00" y="18.30" font-size="7.40" stroke="#000" stroke-width="0.25">Chow</text>
<text x="423.00" y="26.00" font-size="7.40" stroke="#000" stroke-width="0.25">HF</text>
<text x="381.60" y="60.50" font-size="8.20" text-anchor="middle" stroke="#000" stroke-width="0.28" transform="rotate(-90 381.60 60.50)">Daily food intake</text>
<text x="391.80" y="60.50" font-size="8.20" text-anchor="middle" stroke="#000" stroke-width="0.28" transform="rotate(-90 391.80 60.50)">per mouse (g)</text>
</g>
<g>
<text x="474.60" y="7.00" font-size="8.20" font-weight="bold">D</text>
<line x1="506.20" y1="12.00" x2="506.20" y2="108.00" stroke="#000" stroke-width="1.60"/>
<line x1="503.70" y1="97.00" x2="506.20" y2="97.00" stroke="#000" stroke-width="1.40"/>
<text x="502.60" y="99.28" font-size="6.60" text-anchor="end" font-weight="bold">10</text>
<line x1="503.70" y1="68.87" x2="506.20" y2="68.87" stroke="#000" stroke-width="1.40"/>
<text x="502.60" y="71.15" font-size="6.60" text-anchor="end" font-weight="bold">15</text>
<line x1="503.70" y1="40.73" x2="506.20" y2="40.73" stroke="#000" stroke-width="1.40"/>
<text x="502.60" y="43.01" font-size="6.60" text-anchor="end" font-weight="bold">20</text>
<line x1="503.70" y1="12.60" x2="506.20" y2="12.60" stroke="#000" stroke-width="1.40"/>
<text x="502.60" y="14.88" font-size="6.60" text-anchor="end" font-weight="bold">25</text>
<line x1="505.40" y1="108.00" x2="569.80" y2="108.00" stroke="#000" stroke-width="1.50"/>
<rect x="511.75" y="86.96" width="8.30" height="21.04" fill="#fff" stroke="#000" stroke-width="1.30"/>
<rect x="525.70" y="85.18" width="9.60" height="22.82" fill="#000"/>
<rect x="540.95" y="79.64" width="8.30" height="28.36" fill="#fff" stroke="#000" stroke-width="1.30"/>
<rect x="555.00" y="72.81" width="9.60" height="35.19" fill="#000"/>
<circle cx="515.90" cy="86.31" r="1.80" fill="#fff" stroke="#000" stroke-width="0.95"/>
<circle cx="518.15" cy="88.00" r="1.80" fill="#fff" stroke="#000" stroke-width="0.95"/>
<circle cx="518.15" cy="84.62" r="1.80" fill="#fff" stroke="#000" stroke-width="0.95"/>
<circle cx="515.90" cy="89.69" r="1.80" fill="#fff" stroke="#000" stroke-width="0.95"/>
<circle cx="515.90" cy="82.93" r="1.80" fill="#fff" stroke="#000" stroke-width="0.95"/>
<circle cx="518.15" cy="91.37" r="1.80" fill="#fff" stroke="#000" stroke-width="0.95"/>
<circle cx="518.15" cy="81.25" r="1.80" fill="#fff" stroke="#000" stroke-width="0.95"/>
<circle cx="515.90" cy="93.62" r="1.80" fill="#fff" stroke="#000" stroke-width="0.95"/>
<circle cx="512.90" cy="85.75" r="1.80" fill="#fff" stroke="#000" stroke-width="0.95"/>
<circle cx="512.90" cy="88.56" r="1.80" fill="#fff" stroke="#000" stroke-width="0.95"/>
<circle cx="515.90" cy="76.18" r="1.80" fill="#fff" stroke="#000" stroke-width="0.95"/>
<circle cx="530.50" cy="85.18" r="1.80" fill="#8a8a8a" stroke="#000" stroke-width="0.95"/>
<circle cx="532.75" cy="83.50" r="1.80" fill="#8a8a8a" stroke="#000" stroke-width="0.95"/>
<circle cx="532.75" cy="86.87" r="1.80" fill="#8a8a8a" stroke="#000" stroke-width="0.95"/>
<circle cx="530.50" cy="81.81" r="1.80" fill="#8a8a8a" stroke="#000" stroke-width="0.95"/>
<circle cx="530.50" cy="89.12" r="1.80" fill="#8a8a8a" stroke="#000" stroke-width="0.95"/>
<circle cx="532.75" cy="80.12" r="1.80" fill="#8a8a8a" stroke="#000" stroke-width="0.95"/>
<circle cx="532.00" cy="91.37" r="1.80" fill="#8a8a8a" stroke="#000" stroke-width="0.95"/>
<circle cx="527.50" cy="84.62" r="1.80" fill="#8a8a8a" stroke="#000" stroke-width="0.95"/>
<circle cx="530.50" cy="97.00" r="1.80" fill="#8a8a8a" stroke="#000" stroke-width="0.95"/>
<circle cx="529.75" cy="78.99" r="1.80" fill="#8a8a8a" stroke="#000" stroke-width="0.95"/>
<circle cx="530.50" cy="74.49" r="1.80" fill="#8a8a8a" stroke="#000" stroke-width="0.95"/>
<circle cx="530.50" cy="50.86" r="1.80" fill="#8a8a8a" stroke="#000" stroke-width="0.95"/>
<circle cx="545.10" cy="78.99" r="1.80" fill="#fff" stroke="#000" stroke-width="0.95"/>
<circle cx="547.35" cy="77.31" r="1.80" fill="#fff" stroke="#000" stroke-width="0.95"/>
<circle cx="547.35" cy="80.68" r="1.80" fill="#fff" stroke="#000" stroke-width="0.95"/>
<circle cx="545.10" cy="75.62" r="1.80" fill="#fff" stroke="#000" stroke-width="0.95"/>
<circle cx="545.10" cy="82.93" r="1.80" fill="#fff" stroke="#000" stroke-width="0.95"/>
<circle cx="542.10" cy="80.12" r="1.80" fill="#fff" stroke="#000" stroke-width="0.95"/>
<circle cx="548.10" cy="74.49" r="1.80" fill="#fff" stroke="#000" stroke-width="0.95"/>
<circle cx="547.35" cy="84.62" r="1.80" fill="#fff" stroke="#000" stroke-width="0.95"/>
<circle cx="542.85" cy="78.43" r="1.80" fill="#fff" stroke="#000" stroke-width="0.95"/>
<circle cx="545.10" cy="66.05" r="1.80" fill="#fff" stroke="#000" stroke-width="0.95"/>
<circle cx="559.90" cy="72.81" r="1.80" fill="#8a8a8a" stroke="#000" stroke-width="0.95"/>
<circle cx="562.15" cy="71.12" r="1.80" fill="#8a8a8a" stroke="#000" stroke-width="0.95"/>
<circle cx="562.15" cy="74.49" r="1.80" fill="#8a8a8a" stroke="#000" stroke-width="0.95"/>
<circle cx="559.90" cy="69.43" r="1.80" fill="#8a8a8a" stroke="#000" stroke-width="0.95"/>
<circle cx="559.15" cy="75.62" r="1.80" fill="#8a8a8a" stroke="#000" stroke-width="0.95"/>
<circle cx="562.15" cy="67.74" r="1.80" fill="#8a8a8a" stroke="#000" stroke-width="0.95"/>
<circle cx="556.90" cy="72.24" r="1.80" fill="#8a8a8a" stroke="#000" stroke-width="0.95"/>
<circle cx="559.90" cy="87.43" r="1.80" fill="#8a8a8a" stroke="#000" stroke-width="0.95"/>
<circle cx="558.40" cy="70.55" r="1.80" fill="#8a8a8a" stroke="#000" stroke-width="0.95"/>
<circle cx="559.90" cy="54.24" r="1.80" fill="#8a8a8a" stroke="#000" stroke-width="0.95"/>
<line x1="512.80" y1="112.30" x2="534.10" y2="112.30" stroke="#000" stroke-width="1.75"/>
<line x1="543.00" y1="112.30" x2="564.50" y2="112.30" stroke="#000" stroke-width="1.75"/>
<text x="523.00" y="121.50" font-size="6.80" text-anchor="middle" font-weight="bold">WT</text>
<text x="555.00" y="121.50" font-size="6.80" text-anchor="middle" font-weight="bold">IL-4Ra<tspan font-size="4.62" dy="-2.31" stroke-width="0">-/-</tspan></text>
<circle cx="512.40" cy="13.40" r="1.90" fill="#fff" stroke="#000" stroke-width="1.15"/>
<circle cx="512.40" cy="20.00" r="1.90" fill="#8a8a8a" stroke="#000" stroke-width="1.15"/>
<text x="523.40" y="15.70" font-size="7.30" stroke="#000" stroke-width="0.25">Chow</text>
<text x="523.40" y="22.20" font-size="7.30" stroke="#000" stroke-width="0.25">HF</text>
<polyline points="514.40,63.30 514.40,60.30 545.70,60.30 545.70,63.30" fill="none" stroke="#000" stroke-width="1.00" stroke-linejoin="round"/>
<text x="530.70" y="61.70" font-size="8.30" text-anchor="middle" font-weight="bold">*</text>
<polyline points="529.60,45.90 529.60,43.10 561.00,43.10 561.00,45.90" fill="none" stroke="#000" stroke-width="1.00" stroke-linejoin="round"/>
<text x="545.40" y="44.00" font-size="7.60" text-anchor="middle" font-weight="bold">****</text>
<text x="481.40" y="60.00" font-size="7.60" text-anchor="middle" stroke="#000" stroke-width="0.26" transform="rotate(-90 481.40 60.00)">Daily caloric intake</text>
<text x="490.60" y="60.00" font-size="7.60" text-anchor="middle" stroke="#000" stroke-width="0.26" transform="rotate(-90 490.60 60.00)">per mouse (Kcal)</text>
</g>
<g>
<text x="583.60" y="7.40" font-size="8.20" font-weight="bold">E</text>
<line x1="620.10" y1="12.00" x2="620.10" y2="108.40" stroke="#000" stroke-width="1.50"/>
<line x1="617.65" y1="108.40" x2="620.10" y2="108.40" stroke="#000" stroke-width="1.40"/>
<text x="616.40" y="110.98" font-size="7.60" text-anchor="end" font-weight="bold">0</text>
<line x1="617.65" y1="84.45" x2="620.10" y2="84.45" stroke="#000" stroke-width="1.40"/>
<text x="616.40" y="87.03" font-size="7.60" text-anchor="end" font-weight="bold">10000</text>
<line x1="617.65" y1="60.50" x2="620.10" y2="60.50" stroke="#000" stroke-width="1.40"/>
<text x="616.40" y="63.08" font-size="7.60" text-anchor="end" font-weight="bold">20000</text>
<line x1="617.65" y1="36.55" x2="620.10" y2="36.55" stroke="#000" stroke-width="1.40"/>
<text x="616.40" y="39.13" font-size="7.60" text-anchor="end" font-weight="bold">30000</text>
<line x1="617.65" y1="12.60" x2="620.10" y2="12.60" stroke="#000" stroke-width="1.40"/>
<text x="616.40" y="15.18" font-size="7.60" text-anchor="end" font-weight="bold">40000</text>
<line x1="619.35" y1="108.40" x2="685.00" y2="108.40" stroke="#000" stroke-width="1.30"/>
<rect x="632.65" y="62.59" width="14.70" height="45.81" fill="#fff" stroke="#000" stroke-width="1.30"/>
<rect x="656.60" y="56.19" width="16.20" height="52.21" fill="#000"/>
<line x1="664.80" y1="50.20" x2="664.80" y2="56.40" stroke="#000" stroke-width="0.90"/>
<line x1="661.60" y1="50.20" x2="668.00" y2="50.20" stroke="#000" stroke-width="0.90"/>
<line x1="661.60" y1="56.40" x2="668.00" y2="56.40" stroke="#000" stroke-width="0.90"/>
<circle cx="634.00" cy="48.40" r="2.00" fill="#fff" stroke="#000" stroke-width="0.80"/>
<circle cx="637.00" cy="48.40" r="2.00" fill="#fff" stroke="#000" stroke-width="0.80"/>
<circle cx="640.00" cy="48.40" r="2.00" fill="#fff" stroke="#000" stroke-width="0.80"/>
<circle cx="643.00" cy="48.40" r="2.00" fill="#fff" stroke="#000" stroke-width="0.80"/>
<circle cx="646.00" cy="48.40" r="2.00" fill="#fff" stroke="#000" stroke-width="0.80"/>
<circle cx="637.00" cy="53.60" r="2.00" fill="#fff" stroke="#000" stroke-width="0.80"/>
<circle cx="640.00" cy="56.00" r="2.00" fill="#fff" stroke="#000" stroke-width="0.80"/>
<circle cx="640.00" cy="68.40" r="2.00" fill="#fff" stroke="#000" stroke-width="0.80"/>
<circle cx="643.60" cy="76.60" r="2.00" fill="#fff" stroke="#000" stroke-width="0.80"/>
<circle cx="637.00" cy="82.60" r="2.00" fill="#fff" stroke="#000" stroke-width="0.80"/>
<circle cx="640.60" cy="80.60" r="2.00" fill="#fff" stroke="#000" stroke-width="0.80"/>
<circle cx="643.60" cy="80.60" r="2.00" fill="#fff" stroke="#000" stroke-width="0.80"/>
<line x1="640.00" y1="57.40" x2="640.00" y2="65.80" stroke="#000" stroke-width="1.00"/>
<line x1="635.80" y1="57.40" x2="644.20" y2="57.40" stroke="#000" stroke-width="1.00"/>
<line x1="635.80" y1="65.80" x2="644.20" y2="65.80" stroke="#000" stroke-width="1.00"/>
<circle cx="658.30" cy="48.40" r="2.00" fill="#8a8a8a" stroke="#000" stroke-width="0.90"/>
<circle cx="660.90" cy="48.40" r="2.00" fill="#8a8a8a" stroke="#000" stroke-width="0.90"/>
<circle cx="663.50" cy="48.40" r="2.00" fill="#8a8a8a" stroke="#000" stroke-width="0.90"/>
<circle cx="666.10" cy="48.40" r="2.00" fill="#8a8a8a" stroke="#000" stroke-width="0.90"/>
<circle cx="668.70" cy="48.40" r="2.00" fill="#8a8a8a" stroke="#000" stroke-width="0.90"/>
<circle cx="671.30" cy="48.40" r="2.00" fill="#8a8a8a" stroke="#000" stroke-width="0.90"/>
<circle cx="664.60" cy="83.60" r="1.50" fill="#bbb"/>
<circle cx="664.60" cy="101.60" r="1.50" fill="#bbb"/>
<line x1="640.00" y1="112.70" x2="666.50" y2="112.70" stroke="#000" stroke-width="1.15"/>
<text x="652.60" y="121.40" font-size="7.00" text-anchor="middle" font-weight="bold">HF</text>
<circle cx="628.00" cy="14.00" r="1.90" fill="#fff" stroke="#000" stroke-width="1.15"/>
<circle cx="628.00" cy="20.40" r="1.90" fill="#8a8a8a" stroke="#000" stroke-width="1.15"/>
<text x="639.00" y="16.40" font-size="7.00" font-weight="bold">WT</text>
<text x="639.00" y="23.30" font-size="7.00" font-weight="bold">IL-4Ra <tspan font-size="4.76" dy="-2.38" stroke-width="0">-/-</tspan></text>
<text x="588.60" y="60.00" font-size="7.00" text-anchor="middle" font-weight="bold" transform="rotate(-90 588.60 60.00)">Leptin (pg/ml)</text>
</g>
<g>
<text x="7.20" y="138.60" font-size="8.20" font-weight="bold">F</text>
<line x1="46.40" y1="143.40" x2="46.40" y2="241.40" stroke="#000" stroke-width="1.60"/>
<line x1="43.90" y1="241.40" x2="46.40" y2="241.40" stroke="#000" stroke-width="1.40"/>
<text x="42.70" y="243.68" font-size="7.60" text-anchor="end" font-weight="bold">0</text>
<line x1="43.90" y1="217.05" x2="46.40" y2="217.05" stroke="#000" stroke-width="1.40"/>
<text x="42.70" y="219.33" font-size="7.60" text-anchor="end" font-weight="bold">1000</text>
<line x1="43.90" y1="192.70" x2="46.40" y2="192.70" stroke="#000" stroke-width="1.40"/>
<text x="42.70" y="194.98" font-size="7.60" text-anchor="end" font-weight="bold">2000</text>
<line x1="43.90" y1="168.35" x2="46.40" y2="168.35" stroke="#000" stroke-width="1.40"/>
<text x="42.70" y="170.63" font-size="7.60" text-anchor="end" font-weight="bold">3000</text>
<line x1="43.90" y1="144.00" x2="46.40" y2="144.00" stroke="#000" stroke-width="1.40"/>
<text x="42.70" y="146.28" font-size="7.60" text-anchor="end" font-weight="bold">4000</text>
<line x1="45.60" y1="241.40" x2="228.80" y2="241.40" stroke="#000" stroke-width="1.30"/>
<rect x="54.25" y="216.65" width="8.10" height="24.75" fill="#fff" stroke="#000" stroke-width="1.30"/>
<rect x="65.10" y="200.39" width="9.10" height="41.01" fill="#000"/>
<rect x="79.65" y="232.31" width="7.70" height="9.09" fill="#d9d9d9" stroke="#000" stroke-width="1.30"/>
<rect x="91.60" y="203.00" width="8.20" height="38.40" fill="#6c6c6c" stroke="#000" stroke-width="0.50"/>
<rect x="115.05" y="232.31" width="7.90" height="9.09" fill="#fff" stroke="#000" stroke-width="1.30"/>
<rect x="126.20" y="188.00" width="9.20" height="53.40" fill="#000"/>
<rect x="140.65" y="237.79" width="7.70" height="3.61" fill="#d9d9d9" stroke="#000" stroke-width="1.30"/>
<rect x="151.60" y="184.42" width="9.00" height="56.98" fill="#6c6c6c" stroke="#000" stroke-width="0.50"/>
<rect x="176.25" y="233.65" width="7.50" height="7.75" fill="#fff" stroke="#000" stroke-width="1.30"/>
<rect x="187.00" y="209.01" width="9.00" height="32.39" fill="#000"/>
<rect x="201.65" y="239.37" width="7.70" height="2.03" fill="#d9d9d9" stroke="#000" stroke-width="1.30"/>
<rect x="212.40" y="212.01" width="9.00" height="29.39" fill="#6c6c6c" stroke="#000" stroke-width="0.50"/>
<circle cx="58.30" cy="215.83" r="2.00" fill="#fff" stroke="#000" stroke-width="0.95"/>
<circle cx="61.30" cy="217.54" r="2.00" fill="#fff" stroke="#000" stroke-width="0.95"/>
<circle cx="61.30" cy="214.62" r="2.00" fill="#fff" stroke="#000" stroke-width="0.95"/>
<circle cx="58.30" cy="219.49" r="2.00" fill="#fff" stroke="#000" stroke-width="0.95"/>
<circle cx="56.05" cy="213.40" r="2.00" fill="#fff" stroke="#000" stroke-width="0.95"/>
<circle cx="60.55" cy="221.43" r="2.00" fill="#fff" stroke="#000" stroke-width="0.95"/>
<circle cx="58.30" cy="209.75" r="2.00" fill="#fff" stroke="#000" stroke-width="0.95"/>
<circle cx="58.30" cy="231.66" r="2.00" fill="#fff" stroke="#000" stroke-width="0.95"/>
<circle cx="55.30" cy="217.05" r="2.00" fill="#fff" stroke="#000" stroke-width="0.95"/>
<circle cx="59.05" cy="212.67" r="2.00" fill="#fff" stroke="#000" stroke-width="0.95"/>
<circle cx="70.00" cy="200.00" r="2.00" fill="#8a8a8a" stroke="#000" stroke-width="0.95"/>
<circle cx="70.00" cy="203.66" r="2.00" fill="#8a8a8a" stroke="#000" stroke-width="0.95"/>
<circle cx="70.00" cy="196.35" r="2.00" fill="#8a8a8a" stroke="#000" stroke-width="0.95"/>
<circle cx="70.00" cy="207.31" r="2.00" fill="#8a8a8a" stroke="#000" stroke-width="0.95"/>
<circle cx="72.25" cy="193.92" r="2.00" fill="#8a8a8a" stroke="#000" stroke-width="0.95"/>
<circle cx="70.00" cy="210.96" r="2.00" fill="#8a8a8a" stroke="#000" stroke-width="0.95"/>
<circle cx="70.00" cy="191.48" r="2.00" fill="#8a8a8a" stroke="#000" stroke-width="0.95"/>
<circle cx="70.00" cy="217.05" r="2.00" fill="#8a8a8a" stroke="#000" stroke-width="0.95"/>
<circle cx="73.00" cy="190.27" r="2.00" fill="#8a8a8a" stroke="#000" stroke-width="0.95"/>
<circle cx="72.25" cy="219.00" r="2.00" fill="#8a8a8a" stroke="#000" stroke-width="0.95"/>
<circle cx="73.00" cy="201.22" r="2.00" fill="#8a8a8a" stroke="#000" stroke-width="0.95"/>
<circle cx="70.00" cy="173.22" r="2.00" fill="#8a8a8a" stroke="#000" stroke-width="0.95"/>
<circle cx="67.00" cy="190.75" r="2.00" fill="#8a8a8a" stroke="#000" stroke-width="0.95"/>
<circle cx="83.50" cy="231.66" r="2.00" fill="#d9d9d9" stroke="#000" stroke-width="0.95"/>
<circle cx="86.50" cy="232.88" r="2.00" fill="#d9d9d9" stroke="#000" stroke-width="0.95"/>
<circle cx="80.50" cy="230.44" r="2.00" fill="#d9d9d9" stroke="#000" stroke-width="0.95"/>
<circle cx="81.25" cy="234.09" r="2.00" fill="#d9d9d9" stroke="#000" stroke-width="0.95"/>
<circle cx="85.75" cy="229.22" r="2.00" fill="#d9d9d9" stroke="#000" stroke-width="0.95"/>
<circle cx="85.75" cy="231.17" r="2.00" fill="#d9d9d9" stroke="#000" stroke-width="0.95"/>
<circle cx="84.25" cy="235.31" r="2.00" fill="#d9d9d9" stroke="#000" stroke-width="0.95"/>
<circle cx="82.75" cy="227.76" r="2.00" fill="#d9d9d9" stroke="#000" stroke-width="0.95"/>
<circle cx="83.50" cy="222.89" r="2.00" fill="#d9d9d9" stroke="#000" stroke-width="0.95"/>
<circle cx="81.25" cy="232.15" r="2.00" fill="#d9d9d9" stroke="#000" stroke-width="0.95"/>
<circle cx="95.70" cy="202.93" r="2.00" fill="#6c6c6c" stroke="#000" stroke-width="0.95"/>
<circle cx="95.70" cy="206.09" r="2.00" fill="#6c6c6c" stroke="#000" stroke-width="0.95"/>
<circle cx="95.70" cy="200.00" r="2.00" fill="#6c6c6c" stroke="#000" stroke-width="0.95"/>
<circle cx="97.95" cy="208.53" r="2.00" fill="#6c6c6c" stroke="#000" stroke-width="0.95"/>
<circle cx="98.70" cy="204.88" r="2.00" fill="#6c6c6c" stroke="#000" stroke-width="0.95"/>
<circle cx="95.70" cy="210.96" r="2.00" fill="#6c6c6c" stroke="#000" stroke-width="0.95"/>
<circle cx="95.70" cy="197.08" r="2.00" fill="#6c6c6c" stroke="#000" stroke-width="0.95"/>
<circle cx="95.70" cy="214.62" r="2.00" fill="#6c6c6c" stroke="#000" stroke-width="0.95"/>
<circle cx="98.70" cy="212.18" r="2.00" fill="#6c6c6c" stroke="#000" stroke-width="0.95"/>
<circle cx="98.70" cy="201.95" r="2.00" fill="#6c6c6c" stroke="#000" stroke-width="0.95"/>
<circle cx="95.70" cy="185.88" r="2.00" fill="#6c6c6c" stroke="#000" stroke-width="0.95"/>
<circle cx="95.70" cy="182.96" r="2.00" fill="#6c6c6c" stroke="#000" stroke-width="0.95"/>
<circle cx="92.70" cy="207.31" r="2.00" fill="#6c6c6c" stroke="#000" stroke-width="0.95"/>
<circle cx="119.00" cy="231.66" r="2.00" fill="#fff" stroke="#000" stroke-width="0.95"/>
<circle cx="121.25" cy="234.09" r="2.00" fill="#fff" stroke="#000" stroke-width="0.95"/>
<circle cx="121.25" cy="229.22" r="2.00" fill="#fff" stroke="#000" stroke-width="0.95"/>
<circle cx="119.00" cy="236.53" r="2.00" fill="#fff" stroke="#000" stroke-width="0.95"/>
<circle cx="119.00" cy="227.28" r="2.00" fill="#fff" stroke="#000" stroke-width="0.95"/>
<circle cx="121.25" cy="238.97" r="2.00" fill="#fff" stroke="#000" stroke-width="0.95"/>
<circle cx="119.00" cy="223.87" r="2.00" fill="#fff" stroke="#000" stroke-width="0.95"/>
<circle cx="119.00" cy="219.97" r="2.00" fill="#fff" stroke="#000" stroke-width="0.95"/>
<circle cx="116.00" cy="232.15" r="2.00" fill="#fff" stroke="#000" stroke-width="0.95"/>
<circle cx="117.50" cy="230.69" r="2.00" fill="#fff" stroke="#000" stroke-width="0.95"/>
<circle cx="130.80" cy="187.83" r="2.00" fill="#8a8a8a" stroke="#000" stroke-width="0.95"/>
<circle cx="133.05" cy="190.27" r="2.00" fill="#8a8a8a" stroke="#000" stroke-width="0.95"/>
<circle cx="133.05" cy="185.40" r="2.00" fill="#8a8a8a" stroke="#000" stroke-width="0.95"/>
<circle cx="130.05" cy="184.18" r="2.00" fill="#8a8a8a" stroke="#000" stroke-width="0.95"/>
<circle cx="127.80" cy="189.05" r="2.00" fill="#8a8a8a" stroke="#000" stroke-width="0.95"/>
<circle cx="132.30" cy="181.74" r="2.00" fill="#8a8a8a" stroke="#000" stroke-width="0.95"/>
<circle cx="128.55" cy="186.61" r="2.00" fill="#8a8a8a" stroke="#000" stroke-width="0.95"/>
<circle cx="130.80" cy="178.09" r="2.00" fill="#8a8a8a" stroke="#000" stroke-width="0.95"/>
<circle cx="130.80" cy="173.22" r="2.00" fill="#8a8a8a" stroke="#000" stroke-width="0.95"/>
<circle cx="130.80" cy="212.91" r="2.00" fill="#8a8a8a" stroke="#000" stroke-width="0.95"/>
<circle cx="130.05" cy="191.48" r="2.00" fill="#8a8a8a" stroke="#000" stroke-width="0.95"/>
<circle cx="133.80" cy="188.32" r="2.00" fill="#8a8a8a" stroke="#000" stroke-width="0.95"/>
<circle cx="144.50" cy="237.26" r="2.00" fill="#d9d9d9" stroke="#000" stroke-width="0.95"/>
<circle cx="147.50" cy="238.48" r="2.00" fill="#d9d9d9" stroke="#000" stroke-width="0.95"/>
<circle cx="141.50" cy="236.29" r="2.00" fill="#d9d9d9" stroke="#000" stroke-width="0.95"/>
<circle cx="142.25" cy="237.75" r="2.00" fill="#d9d9d9" stroke="#000" stroke-width="0.95"/>
<circle cx="147.50" cy="235.56" r="2.00" fill="#d9d9d9" stroke="#000" stroke-width="0.95"/>
<circle cx="145.25" cy="239.21" r="2.00" fill="#d9d9d9" stroke="#000" stroke-width="0.95"/>
<circle cx="146.00" cy="236.77" r="2.00" fill="#d9d9d9" stroke="#000" stroke-width="0.95"/>
<circle cx="143.75" cy="238.23" r="2.00" fill="#d9d9d9" stroke="#000" stroke-width="0.95"/>
<circle cx="143.00" cy="236.53" r="2.00" fill="#d9d9d9" stroke="#000" stroke-width="0.95"/>
<circle cx="156.10" cy="184.18" r="2.00" fill="#6c6c6c" stroke="#000" stroke-width="0.95"/>
<circle cx="156.10" cy="187.83" r="2.00" fill="#6c6c6c" stroke="#000" stroke-width="0.95"/>
<circle cx="159.10" cy="182.96" r="2.00" fill="#6c6c6c" stroke="#000" stroke-width="0.95"/>
<circle cx="158.35" cy="190.27" r="2.00" fill="#6c6c6c" stroke="#000" stroke-width="0.95"/>
<circle cx="153.10" cy="185.40" r="2.00" fill="#6c6c6c" stroke="#000" stroke-width="0.95"/>
<circle cx="156.10" cy="193.92" r="2.00" fill="#6c6c6c" stroke="#000" stroke-width="0.95"/>
<circle cx="156.10" cy="180.53" r="2.00" fill="#6c6c6c" stroke="#000" stroke-width="0.95"/>
<circle cx="156.10" cy="198.79" r="2.00" fill="#6c6c6c" stroke="#000" stroke-width="0.95"/>
<circle cx="158.35" cy="178.09" r="2.00" fill="#6c6c6c" stroke="#000" stroke-width="0.95"/>
<circle cx="156.10" cy="204.88" r="2.00" fill="#6c6c6c" stroke="#000" stroke-width="0.95"/>
<circle cx="159.10" cy="186.61" r="2.00" fill="#6c6c6c" stroke="#000" stroke-width="0.95"/>
<circle cx="156.10" cy="157.88" r="2.00" fill="#6c6c6c" stroke="#000" stroke-width="0.95"/>
<circle cx="158.35" cy="184.66" r="2.00" fill="#6c6c6c" stroke="#000" stroke-width="0.95"/>
<circle cx="180.00" cy="232.88" r="2.00" fill="#fff" stroke="#000" stroke-width="0.95"/>
<circle cx="183.00" cy="234.09" r="2.00" fill="#fff" stroke="#000" stroke-width="0.95"/>
<circle cx="183.00" cy="231.17" r="2.00" fill="#fff" stroke="#000" stroke-width="0.95"/>
<circle cx="177.75" cy="235.31" r="2.00" fill="#fff" stroke="#000" stroke-width="0.95"/>
<circle cx="180.00" cy="229.71" r="2.00" fill="#fff" stroke="#000" stroke-width="0.95"/>
<circle cx="180.00" cy="238.97" r="2.00" fill="#fff" stroke="#000" stroke-width="0.95"/>
<circle cx="182.25" cy="227.28" r="2.00" fill="#fff" stroke="#000" stroke-width="0.95"/>
<circle cx="177.00" cy="232.15" r="2.00" fill="#fff" stroke="#000" stroke-width="0.95"/>
<circle cx="177.75" cy="230.44" r="2.00" fill="#fff" stroke="#000" stroke-width="0.95"/>
<circle cx="191.50" cy="208.53" r="2.00" fill="#8a8a8a" stroke="#000" stroke-width="0.95"/>
<circle cx="193.75" cy="210.96" r="2.00" fill="#8a8a8a" stroke="#000" stroke-width="0.95"/>
<circle cx="193.75" cy="206.09" r="2.00" fill="#8a8a8a" stroke="#000" stroke-width="0.95"/>
<circle cx="191.50" cy="213.40" r="2.00" fill="#8a8a8a" stroke="#000" stroke-width="0.95"/>
<circle cx="191.50" cy="203.66" r="2.00" fill="#8a8a8a" stroke="#000" stroke-width="0.95"/>
<circle cx="193.75" cy="215.83" r="2.00" fill="#8a8a8a" stroke="#000" stroke-width="0.95"/>
<circle cx="193.75" cy="201.22" r="2.00" fill="#8a8a8a" stroke="#000" stroke-width="0.95"/>
<circle cx="188.50" cy="207.31" r="2.00" fill="#8a8a8a" stroke="#000" stroke-width="0.95"/>
<circle cx="189.25" cy="209.75" r="2.00" fill="#8a8a8a" stroke="#000" stroke-width="0.95"/>
<circle cx="191.50" cy="197.57" r="2.00" fill="#8a8a8a" stroke="#000" stroke-width="0.95"/>
<circle cx="194.50" cy="197.08" r="2.00" fill="#8a8a8a" stroke="#000" stroke-width="0.95"/>
<circle cx="188.50" cy="212.18" r="2.00" fill="#8a8a8a" stroke="#000" stroke-width="0.95"/>
<circle cx="189.25" cy="204.88" r="2.00" fill="#8a8a8a" stroke="#000" stroke-width="0.95"/>
<circle cx="189.25" cy="200.00" r="2.00" fill="#8a8a8a" stroke="#000" stroke-width="0.95"/>
<circle cx="205.50" cy="238.72" r="2.00" fill="#d9d9d9" stroke="#000" stroke-width="0.95"/>
<circle cx="208.50" cy="239.94" r="2.00" fill="#d9d9d9" stroke="#000" stroke-width="0.95"/>
<circle cx="202.50" cy="237.50" r="2.00" fill="#d9d9d9" stroke="#000" stroke-width="0.95"/>
<circle cx="203.25" cy="240.91" r="2.00" fill="#d9d9d9" stroke="#000" stroke-width="0.95"/>
<circle cx="207.75" cy="236.53" r="2.00" fill="#d9d9d9" stroke="#000" stroke-width="0.95"/>
<circle cx="203.25" cy="239.21" r="2.00" fill="#d9d9d9" stroke="#000" stroke-width="0.95"/>
<circle cx="204.75" cy="235.31" r="2.00" fill="#d9d9d9" stroke="#000" stroke-width="0.95"/>
<circle cx="207.00" cy="237.99" r="2.00" fill="#d9d9d9" stroke="#000" stroke-width="0.95"/>
<circle cx="207.75" cy="233.61" r="2.00" fill="#d9d9d9" stroke="#000" stroke-width="0.95"/>
<circle cx="206.25" cy="240.43" r="2.00" fill="#d9d9d9" stroke="#000" stroke-width="0.95"/>
<circle cx="216.90" cy="212.18" r="2.00" fill="#6c6c6c" stroke="#000" stroke-width="0.95"/>
<circle cx="219.90" cy="213.40" r="2.00" fill="#6c6c6c" stroke="#000" stroke-width="0.95"/>
<circle cx="219.15" cy="210.23" r="2.00" fill="#6c6c6c" stroke="#000" stroke-width="0.95"/>
<circle cx="214.65" cy="214.62" r="2.00" fill="#6c6c6c" stroke="#000" stroke-width="0.95"/>
<circle cx="216.15" cy="208.53" r="2.00" fill="#6c6c6c" stroke="#000" stroke-width="0.95"/>
<circle cx="213.90" cy="211.69" r="2.00" fill="#6c6c6c" stroke="#000" stroke-width="0.95"/>
<circle cx="218.40" cy="212.67" r="2.00" fill="#6c6c6c" stroke="#000" stroke-width="0.95"/>
<circle cx="218.40" cy="206.09" r="2.00" fill="#6c6c6c" stroke="#000" stroke-width="0.95"/>
<circle cx="216.15" cy="203.66" r="2.00" fill="#6c6c6c" stroke="#000" stroke-width="0.95"/>
<circle cx="215.40" cy="210.96" r="2.00" fill="#6c6c6c" stroke="#000" stroke-width="0.95"/>
<line x1="54.40" y1="245.70" x2="96.50" y2="245.70" stroke="#000" stroke-width="1.15"/>
<line x1="115.40" y1="245.70" x2="157.50" y2="245.70" stroke="#000" stroke-width="1.15"/>
<line x1="178.40" y1="245.70" x2="220.50" y2="245.70" stroke="#000" stroke-width="1.15"/>
<text x="75.00" y="253.00" font-size="7.10" text-anchor="middle" font-weight="bold">eWAT</text>
<text x="134.40" y="253.00" font-size="7.10" text-anchor="middle" font-weight="bold">iWAT</text>
<text x="199.40" y="253.00" font-size="7.10" text-anchor="middle" font-weight="bold">pWAT</text>
<circle cx="55.50" cy="144.00" r="2.00" fill="#fff" stroke="#000" stroke-width="1.10"/>
<circle cx="55.50" cy="150.40" r="2.00" fill="#8a8a8a" stroke="#000" stroke-width="1.10"/>
<circle cx="55.50" cy="157.20" r="2.00" fill="#d9d9d9" stroke="#000" stroke-width="1.10"/>
<circle cx="55.50" cy="163.00" r="2.00" fill="#6c6c6c" stroke="#000" stroke-width="1.10"/>
<text x="67.00" y="146.40" font-size="7.20" stroke="#000" stroke-width="0.24">WT Chow</text>
<text x="67.00" y="152.70" font-size="7.20" stroke="#000" stroke-width="0.24">WT HF</text>
<text x="67.00" y="159.60" font-size="7.20" stroke="#000" stroke-width="0.24">IL-4Ra<tspan font-size="4.90" dy="-2.45" stroke-width="0">-/-</tspan><tspan dy="2.45"> Chow</tspan></text>
<text x="67.00" y="166.40" font-size="7.20" stroke="#000" stroke-width="0.24">IL-4Ra <tspan font-size="4.90" dy="-2.45" stroke-width="0">-/-</tspan><tspan dy="2.45"> HF</tspan></text>
<text x="18.90" y="192.50" font-size="7.10" text-anchor="middle" font-weight="bold" transform="rotate(-90 18.90 192.50)">Adipose tissue weight (mg)</text>
</g>
<g>
<text x="232.00" y="140.20" font-size="8.20" font-weight="bold">G</text>
<line x1="277.95" y1="143.40" x2="277.95" y2="241.40" stroke="#000" stroke-width="1.60"/>
<line x1="275.45" y1="241.40" x2="277.95" y2="241.40" stroke="#000" stroke-width="1.40"/>
<text x="274.00" y="243.86" font-size="7.20" text-anchor="end" font-weight="bold">0</text>
<line x1="275.45" y1="208.93" x2="277.95" y2="208.93" stroke="#000" stroke-width="1.40"/>
<text x="274.00" y="211.39" font-size="7.20" text-anchor="end" font-weight="bold">100</text>
<line x1="275.45" y1="176.47" x2="277.95" y2="176.47" stroke="#000" stroke-width="1.40"/>
<text x="274.00" y="178.93" font-size="7.20" text-anchor="end" font-weight="bold">200</text>
<line x1="275.45" y1="144.00" x2="277.95" y2="144.00" stroke="#000" stroke-width="1.40"/>
<text x="274.00" y="146.46" font-size="7.20" text-anchor="end" font-weight="bold">300</text>
<line x1="277.15" y1="241.40" x2="342.00" y2="241.40" stroke="#000" stroke-width="1.25"/>
<rect x="285.65" y="221.60" width="7.30" height="19.80" fill="#fff" stroke="#000" stroke-width="1.30"/>
<rect x="299.00" y="200.00" width="8.60" height="41.40" fill="#000"/>
<rect x="313.65" y="217.70" width="7.30" height="23.70" fill="#fff" stroke="#000" stroke-width="1.30"/>
<rect x="327.00" y="193.67" width="8.60" height="47.73" fill="#000"/>
<circle cx="289.30" cy="220.95" r="1.85" fill="#fff" stroke="#000" stroke-width="0.95"/>
<circle cx="292.30" cy="221.92" r="1.85" fill="#fff" stroke="#000" stroke-width="0.95"/>
<circle cx="286.30" cy="219.97" r="1.85" fill="#fff" stroke="#000" stroke-width="0.95"/>
<circle cx="287.05" cy="222.57" r="1.85" fill="#fff" stroke="#000" stroke-width="0.95"/>
<circle cx="290.80" cy="218.67" r="1.85" fill="#fff" stroke="#000" stroke-width="0.95"/>
<circle cx="290.80" cy="221.27" r="1.85" fill="#fff" stroke="#000" stroke-width="0.95"/>
<circle cx="287.80" cy="217.37" r="1.85" fill="#fff" stroke="#000" stroke-width="0.95"/>
<circle cx="290.05" cy="215.43" r="1.85" fill="#fff" stroke="#000" stroke-width="0.95"/>
<circle cx="292.30" cy="220.30" r="1.85" fill="#fff" stroke="#000" stroke-width="0.95"/>
<circle cx="288.55" cy="219.32" r="1.85" fill="#fff" stroke="#000" stroke-width="0.95"/>
<circle cx="303.30" cy="200.17" r="1.85" fill="#8a8a8a" stroke="#000" stroke-width="0.95"/>
<circle cx="304.80" cy="202.44" r="1.85" fill="#8a8a8a" stroke="#000" stroke-width="0.95"/>
<circle cx="304.80" cy="197.89" r="1.85" fill="#8a8a8a" stroke="#000" stroke-width="0.95"/>
<circle cx="302.55" cy="204.06" r="1.85" fill="#8a8a8a" stroke="#000" stroke-width="0.95"/>
<circle cx="302.55" cy="195.95" r="1.85" fill="#8a8a8a" stroke="#000" stroke-width="0.95"/>
<circle cx="304.05" cy="206.34" r="1.85" fill="#8a8a8a" stroke="#000" stroke-width="0.95"/>
<circle cx="300.30" cy="199.84" r="1.85" fill="#8a8a8a" stroke="#000" stroke-width="0.95"/>
<circle cx="301.05" cy="207.63" r="1.85" fill="#8a8a8a" stroke="#000" stroke-width="0.95"/>
<circle cx="303.30" cy="192.70" r="1.85" fill="#8a8a8a" stroke="#000" stroke-width="0.95"/>
<circle cx="305.55" cy="191.08" r="1.85" fill="#8a8a8a" stroke="#000" stroke-width="0.95"/>
<circle cx="306.30" cy="201.14" r="1.85" fill="#8a8a8a" stroke="#000" stroke-width="0.95"/>
<circle cx="301.80" cy="198.87" r="1.85" fill="#8a8a8a" stroke="#000" stroke-width="0.95"/>
<circle cx="317.30" cy="217.05" r="1.85" fill="#fff" stroke="#000" stroke-width="0.95"/>
<circle cx="320.30" cy="218.02" r="1.85" fill="#fff" stroke="#000" stroke-width="0.95"/>
<circle cx="314.30" cy="216.08" r="1.85" fill="#fff" stroke="#000" stroke-width="0.95"/>
<circle cx="315.05" cy="218.67" r="1.85" fill="#fff" stroke="#000" stroke-width="0.95"/>
<circle cx="318.80" cy="214.78" r="1.85" fill="#fff" stroke="#000" stroke-width="0.95"/>
<circle cx="318.05" cy="219.32" r="1.85" fill="#fff" stroke="#000" stroke-width="0.95"/>
<circle cx="318.80" cy="216.73" r="1.85" fill="#fff" stroke="#000" stroke-width="0.95"/>
<circle cx="315.80" cy="213.80" r="1.85" fill="#fff" stroke="#000" stroke-width="0.95"/>
<circle cx="315.80" cy="217.70" r="1.85" fill="#fff" stroke="#000" stroke-width="0.95"/>
<circle cx="320.30" cy="215.75" r="1.85" fill="#fff" stroke="#000" stroke-width="0.95"/>
<circle cx="331.30" cy="193.67" r="1.85" fill="#8a8a8a" stroke="#000" stroke-width="0.95"/>
<circle cx="332.80" cy="195.95" r="1.85" fill="#8a8a8a" stroke="#000" stroke-width="0.95"/>
<circle cx="333.55" cy="192.05" r="1.85" fill="#8a8a8a" stroke="#000" stroke-width="0.95"/>
<circle cx="330.55" cy="197.57" r="1.85" fill="#8a8a8a" stroke="#000" stroke-width="0.95"/>
<circle cx="331.30" cy="190.10" r="1.85" fill="#8a8a8a" stroke="#000" stroke-width="0.95"/>
<circle cx="332.05" cy="199.84" r="1.85" fill="#8a8a8a" stroke="#000" stroke-width="0.95"/>
<circle cx="328.30" cy="193.35" r="1.85" fill="#8a8a8a" stroke="#000" stroke-width="0.95"/>
<circle cx="330.55" cy="202.12" r="1.85" fill="#8a8a8a" stroke="#000" stroke-width="0.95"/>
<circle cx="332.80" cy="187.83" r="1.85" fill="#8a8a8a" stroke="#000" stroke-width="0.95"/>
<circle cx="331.30" cy="182.96" r="1.85" fill="#8a8a8a" stroke="#000" stroke-width="0.95"/>
<circle cx="334.30" cy="194.32" r="1.85" fill="#8a8a8a" stroke="#000" stroke-width="0.95"/>
<line x1="284.80" y1="245.30" x2="306.90" y2="245.30" stroke="#000" stroke-width="1.60"/>
<line x1="313.40" y1="245.30" x2="335.50" y2="245.30" stroke="#000" stroke-width="1.60"/>
<text x="295.80" y="255.00" font-size="7.40" text-anchor="middle" font-weight="bold">WT</text>
<text x="324.40" y="255.00" font-size="7.40" text-anchor="middle" font-weight="bold">IL-4Ra<tspan font-size="5.03" dy="-2.52" stroke-width="0">-/-</tspan></text>
<circle cx="285.40" cy="145.80" r="1.80" fill="#fff" stroke="#000" stroke-width="1.15"/>
<circle cx="285.40" cy="152.80" r="1.80" fill="#8a8a8a" stroke="#000" stroke-width="1.15"/>
<text x="297.00" y="148.80" font-size="7.40" stroke="#000" stroke-width="0.25">Chow</text>
<text x="297.00" y="155.40" font-size="7.40" stroke="#000" stroke-width="0.25">HF</text>
<polyline points="289.00,187.60 289.00,184.40 302.40,184.40 302.40,187.60" fill="none" stroke="#000" stroke-width="1.00" stroke-linejoin="round"/>
<text x="295.60" y="185.50" font-size="8.40" text-anchor="middle" font-weight="bold">*</text>
<polyline points="318.00,178.60 318.00,175.60 332.40,175.60 332.40,178.60" fill="none" stroke="#000" stroke-width="1.00" stroke-linejoin="round"/>
<polyline points="303.00,174.00 303.00,168.40 332.40,168.40 332.40,172.00" fill="none" stroke="#000" stroke-width="1.00" stroke-linejoin="round"/>
<text x="323.00" y="169.70" font-size="8.40" text-anchor="middle" font-weight="bold">*</text>
<text x="251.40" y="192.50" font-size="7.60" text-anchor="middle" stroke="#000" stroke-width="0.26" transform="rotate(-90 251.40 192.50)">Fasting Glucose (mg/dl)</text>
</g>
<g>
<text x="354.60" y="138.60" font-size="8.20" font-weight="bold">H</text>
<line x1="384.95" y1="143.40" x2="384.95" y2="241.00" stroke="#000" stroke-width="1.60"/>
<line x1="382.45" y1="241.00" x2="384.95" y2="241.00" stroke="#000" stroke-width="1.40"/>
<text x="380.80" y="244.13" font-size="7.10" text-anchor="end" font-weight="bold">0</text>
<line x1="382.45" y1="224.83" x2="384.95" y2="224.83" stroke="#000" stroke-width="1.40"/>
<text x="380.80" y="227.96" font-size="7.10" text-anchor="end" font-weight="bold">50</text>
<line x1="382.45" y1="208.67" x2="384.95" y2="208.67" stroke="#000" stroke-width="1.40"/>
<text x="380.80" y="211.80" font-size="7.10" text-anchor="end" font-weight="bold">100</text>
<line x1="382.45" y1="192.50" x2="384.95" y2="192.50" stroke="#000" stroke-width="1.40"/>
<text x="380.80" y="195.63" font-size="7.10" text-anchor="end" font-weight="bold">150</text>
<line x1="382.45" y1="176.33" x2="384.95" y2="176.33" stroke="#000" stroke-width="1.40"/>
<text x="380.80" y="179.46" font-size="7.10" text-anchor="end" font-weight="bold">200</text>
<line x1="382.45" y1="160.17" x2="384.95" y2="160.17" stroke="#000" stroke-width="1.40"/>
<text x="380.80" y="163.30" font-size="7.10" text-anchor="end" font-weight="bold">250</text>
<line x1="382.45" y1="144.00" x2="384.95" y2="144.00" stroke="#000" stroke-width="1.40"/>
<text x="380.80" y="147.13" font-size="7.10" text-anchor="end" font-weight="bold">300</text>
<line x1="384.15" y1="241.00" x2="531.00" y2="241.00" stroke="#000" stroke-width="1.50"/>
<line x1="399.00" y1="241.00" x2="399.00" y2="243.80" stroke="#000" stroke-width="1.40"/>
<text x="399.00" y="251.60" font-size="7.10" text-anchor="middle" font-weight="bold">0</text>
<line x1="428.00" y1="241.00" x2="428.00" y2="243.80" stroke="#000" stroke-width="1.40"/>
<text x="428.00" y="251.60" font-size="7.10" text-anchor="middle" font-weight="bold">20</text>
<line x1="457.40" y1="241.00" x2="457.40" y2="243.80" stroke="#000" stroke-width="1.40"/>
<text x="457.40" y="251.60" font-size="7.10" text-anchor="middle" font-weight="bold">40</text>
<line x1="486.50" y1="241.00" x2="486.50" y2="243.80" stroke="#000" stroke-width="1.40"/>
<text x="486.50" y="251.60" font-size="7.10" text-anchor="middle" font-weight="bold">60</text>
<line x1="515.60" y1="241.00" x2="515.60" y2="243.80" stroke="#000" stroke-width="1.40"/>
<text x="515.60" y="251.60" font-size="7.10" text-anchor="middle" font-weight="bold">90</text>
<text x="457.60" y="262.00" font-size="7.20" text-anchor="middle" font-weight="bold">Time after challenge (minutes)</text>
<text x="361.00" y="192.50" font-size="7.00" text-anchor="middle" font-weight="bold" transform="rotate(-90 361.00 192.50)">Glucose (mg/dl)</text>
<line x1="457.40" y1="153.70" x2="457.40" y2="158.55" stroke="#000" stroke-width="1.00"/>
<line x1="454.20" y1="153.70" x2="460.60" y2="153.70" stroke="#000" stroke-width="1.00"/>
<line x1="457.40" y1="166.96" x2="457.40" y2="172.13" stroke="#000" stroke-width="1.00"/>
<line x1="454.20" y1="166.96" x2="460.60" y2="166.96" stroke="#000" stroke-width="1.00"/>
<line x1="486.50" y1="170.19" x2="486.50" y2="174.72" stroke="#000" stroke-width="1.00"/>
<line x1="483.30" y1="170.19" x2="489.70" y2="170.19" stroke="#000" stroke-width="1.00"/>
<line x1="515.60" y1="181.83" x2="515.60" y2="185.71" stroke="#000" stroke-width="1.00"/>
<line x1="512.40" y1="181.83" x2="518.80" y2="181.83" stroke="#000" stroke-width="1.00"/>
<polyline points="399.00,211.58 428.00,187.97 457.40,195.09 486.50,206.08 515.60,211.58" fill="none" stroke="#000" stroke-width="1.30" stroke-linejoin="round"/>
<circle cx="399.00" cy="211.58" r="2.40" fill="#fff" stroke="#000" stroke-width="1.40"/>
<circle cx="428.00" cy="187.97" r="2.40" fill="#fff" stroke="#000" stroke-width="1.40"/>
<circle cx="457.40" cy="195.09" r="2.40" fill="#fff" stroke="#000" stroke-width="1.40"/>
<circle cx="486.50" cy="206.08" r="2.40" fill="#fff" stroke="#000" stroke-width="1.40"/>
<circle cx="515.60" cy="211.58" r="2.40" fill="#fff" stroke="#000" stroke-width="1.40"/>
<polyline points="399.00,209.31 428.00,179.57 457.40,190.88 486.50,202.52 515.60,211.90" fill="none" stroke="#000" stroke-width="1.30" stroke-linejoin="round"/>
<circle cx="399.00" cy="209.31" r="3.10" fill="#000"/>
<circle cx="428.00" cy="179.57" r="3.10" fill="#000"/>
<circle cx="457.40" cy="190.88" r="3.10" fill="#000"/>
<circle cx="486.50" cy="202.52" r="3.10" fill="#000"/>
<circle cx="515.60" cy="211.90" r="3.10" fill="#000"/>
<polyline points="399.00,195.73 428.00,165.99 457.40,172.13 486.50,187.33 515.60,198.97" fill="none" stroke="#000" stroke-width="1.30" stroke-linejoin="round"/>
<rect x="395.90" y="192.63" width="6.20" height="6.20" fill="#000"/>
<rect x="424.90" y="162.89" width="6.20" height="6.20" fill="#000"/>
<rect x="454.30" y="169.03" width="6.20" height="6.20" fill="#000"/>
<rect x="483.40" y="184.23" width="6.20" height="6.20" fill="#000"/>
<rect x="512.50" y="195.87" width="6.20" height="6.20" fill="#000"/>
<polyline points="399.00,191.63 428.00,154.02 457.40,158.55 486.50,174.72 515.60,185.71" fill="none" stroke="#000" stroke-width="1.30" stroke-linejoin="round"/>
<rect x="396.65" y="189.28" width="4.70" height="4.70" fill="#b8b8b8" stroke="#000" stroke-width="1.50"/>
<rect x="425.65" y="151.67" width="4.70" height="4.70" fill="#b8b8b8" stroke="#000" stroke-width="1.50"/>
<rect x="455.05" y="156.20" width="4.70" height="4.70" fill="#b8b8b8" stroke="#000" stroke-width="1.50"/>
<rect x="484.15" y="172.37" width="4.70" height="4.70" fill="#b8b8b8" stroke="#000" stroke-width="1.50"/>
<rect x="513.25" y="183.36" width="4.70" height="4.70" fill="#b8b8b8" stroke="#000" stroke-width="1.50"/>
<text x="428.00" y="151.50" font-size="10.00" text-anchor="middle" font-weight="bold">*</text>
<text x="486.40" y="171.50" font-size="10.00" text-anchor="middle" font-weight="bold">*</text>
<text x="515.60" y="181.90" font-size="10.00" text-anchor="middle" font-weight="bold">*</text>
<circle cx="394.60" cy="226.00" r="3.10" fill="#000"/>
<text x="406.00" y="228.40" font-size="6.50" font-weight="bold">WT Chow</text>
<circle cx="394.60" cy="234.00" r="2.40" fill="#fff" stroke="#000" stroke-width="1.40"/>
<text x="406.00" y="236.90" font-size="6.50" font-weight="bold">IL-4Ra<tspan font-size="4.42" dy="-2.21" stroke-width="0">-/-</tspan><tspan dy="2.21"> Chow</tspan></text>
<rect x="465.90" y="222.70" width="6.20" height="6.20" fill="#000"/>
<text x="480.20" y="228.40" font-size="6.50" font-weight="bold">WT HF</text>
<rect x="466.65" y="231.65" width="4.70" height="4.70" fill="#b8b8b8" stroke="#000" stroke-width="1.50"/>
<text x="480.20" y="236.90" font-size="6.50" font-weight="bold">IL-4Ra<tspan font-size="4.42" dy="-2.21" stroke-width="0">-/-</tspan><tspan dy="2.21"> HF</tspan></text>
</g>
<g>
<text x="533.60" y="138.60" font-size="8.20" font-weight="bold">I</text>
<line x1="573.10" y1="143.40" x2="573.10" y2="241.00" stroke="#000" stroke-width="1.60"/>
<line x1="570.60" y1="241.00" x2="573.10" y2="241.00" stroke="#000" stroke-width="1.40"/>
<text x="569.00" y="243.43" font-size="7.10" text-anchor="end" font-weight="bold">0</text>
<line x1="570.60" y1="216.75" x2="573.10" y2="216.75" stroke="#000" stroke-width="1.40"/>
<text x="569.00" y="219.18" font-size="7.10" text-anchor="end" font-weight="bold">200</text>
<line x1="570.60" y1="192.50" x2="573.10" y2="192.50" stroke="#000" stroke-width="1.40"/>
<text x="569.00" y="194.93" font-size="7.10" text-anchor="end" font-weight="bold">400</text>
<line x1="570.60" y1="168.25" x2="573.10" y2="168.25" stroke="#000" stroke-width="1.40"/>
<text x="569.00" y="170.68" font-size="7.10" text-anchor="end" font-weight="bold">600</text>
<line x1="570.60" y1="144.00" x2="573.10" y2="144.00" stroke="#000" stroke-width="1.40"/>
<text x="569.00" y="146.43" font-size="7.10" text-anchor="end" font-weight="bold">800</text>
<line x1="572.30" y1="241.00" x2="637.80" y2="241.00" stroke="#000" stroke-width="1.30"/>
<rect x="578.65" y="221.64" width="8.10" height="19.36" fill="#fff" stroke="#000" stroke-width="1.30"/>
<rect x="593.00" y="216.39" width="9.40" height="24.61" fill="#000"/>
<rect x="608.65" y="223.71" width="8.10" height="17.29" fill="#fff" stroke="#000" stroke-width="1.30"/>
<rect x="623.40" y="207.05" width="9.20" height="33.95" fill="#000"/>
<circle cx="582.70" cy="220.99" r="2.20" fill="#fff" stroke="#000" stroke-width="0.95"/>
<circle cx="585.70" cy="222.81" r="2.20" fill="#fff" stroke="#000" stroke-width="0.95"/>
<circle cx="584.95" cy="218.57" r="2.20" fill="#fff" stroke="#000" stroke-width="0.95"/>
<circle cx="582.70" cy="225.24" r="2.20" fill="#fff" stroke="#000" stroke-width="0.95"/>
<circle cx="581.95" cy="216.75" r="2.20" fill="#fff" stroke="#000" stroke-width="0.95"/>
<circle cx="585.70" cy="227.06" r="2.20" fill="#fff" stroke="#000" stroke-width="0.95"/>
<circle cx="584.95" cy="214.93" r="2.20" fill="#fff" stroke="#000" stroke-width="0.95"/>
<circle cx="579.70" cy="219.78" r="2.20" fill="#fff" stroke="#000" stroke-width="0.95"/>
<circle cx="580.45" cy="213.72" r="2.20" fill="#fff" stroke="#000" stroke-width="0.95"/>
<circle cx="579.70" cy="226.45" r="2.20" fill="#fff" stroke="#000" stroke-width="0.95"/>
<line x1="597.70" y1="212.51" x2="597.70" y2="216.39" stroke="#000" stroke-width="0.90"/>
<line x1="595.30" y1="212.51" x2="600.10" y2="212.51" stroke="#000" stroke-width="0.90"/>
<line x1="595.30" y1="216.39" x2="600.10" y2="216.39" stroke="#000" stroke-width="0.90"/>
<circle cx="597.70" cy="216.75" r="2.20" fill="#8a8a8a" stroke="#000" stroke-width="0.95"/>
<circle cx="597.70" cy="221.60" r="2.20" fill="#8a8a8a" stroke="#000" stroke-width="0.95"/>
<circle cx="597.70" cy="211.90" r="2.20" fill="#8a8a8a" stroke="#000" stroke-width="0.95"/>
<circle cx="597.70" cy="225.24" r="2.20" fill="#8a8a8a" stroke="#000" stroke-width="0.95"/>
<circle cx="597.70" cy="207.05" r="2.20" fill="#8a8a8a" stroke="#000" stroke-width="0.95"/>
<circle cx="597.70" cy="228.88" r="2.20" fill="#8a8a8a" stroke="#000" stroke-width="0.95"/>
<circle cx="597.70" cy="203.41" r="2.20" fill="#8a8a8a" stroke="#000" stroke-width="0.95"/>
<circle cx="597.70" cy="196.74" r="2.20" fill="#8a8a8a" stroke="#000" stroke-width="0.95"/>
<circle cx="600.70" cy="222.81" r="2.20" fill="#8a8a8a" stroke="#000" stroke-width="0.95"/>
<circle cx="600.70" cy="229.48" r="2.20" fill="#8a8a8a" stroke="#000" stroke-width="0.95"/>
<circle cx="600.70" cy="210.08" r="2.20" fill="#8a8a8a" stroke="#000" stroke-width="0.95"/>
<circle cx="612.70" cy="222.81" r="2.20" fill="#fff" stroke="#000" stroke-width="0.95"/>
<circle cx="614.95" cy="225.24" r="2.20" fill="#fff" stroke="#000" stroke-width="0.95"/>
<circle cx="614.95" cy="220.39" r="2.20" fill="#fff" stroke="#000" stroke-width="0.95"/>
<circle cx="612.70" cy="227.66" r="2.20" fill="#fff" stroke="#000" stroke-width="0.95"/>
<circle cx="611.95" cy="218.57" r="2.20" fill="#fff" stroke="#000" stroke-width="0.95"/>
<circle cx="612.70" cy="234.94" r="2.20" fill="#fff" stroke="#000" stroke-width="0.95"/>
<circle cx="614.95" cy="216.75" r="2.20" fill="#fff" stroke="#000" stroke-width="0.95"/>
<circle cx="609.70" cy="221.60" r="2.20" fill="#fff" stroke="#000" stroke-width="0.95"/>
<circle cx="609.70" cy="219.18" r="2.20" fill="#fff" stroke="#000" stroke-width="0.95"/>
<circle cx="628.00" cy="207.05" r="2.20" fill="#8a8a8a" stroke="#000" stroke-width="0.95"/>
<circle cx="628.00" cy="210.69" r="2.20" fill="#8a8a8a" stroke="#000" stroke-width="0.95"/>
<circle cx="630.25" cy="204.62" r="2.20" fill="#8a8a8a" stroke="#000" stroke-width="0.95"/>
<circle cx="628.00" cy="214.32" r="2.20" fill="#8a8a8a" stroke="#000" stroke-width="0.95"/>
<circle cx="627.25" cy="203.41" r="2.20" fill="#8a8a8a" stroke="#000" stroke-width="0.95"/>
<circle cx="628.00" cy="217.96" r="2.20" fill="#8a8a8a" stroke="#000" stroke-width="0.95"/>
<circle cx="628.00" cy="222.81" r="2.20" fill="#8a8a8a" stroke="#000" stroke-width="0.95"/>
<circle cx="628.00" cy="188.86" r="2.20" fill="#8a8a8a" stroke="#000" stroke-width="0.95"/>
<circle cx="628.00" cy="185.22" r="2.20" fill="#8a8a8a" stroke="#000" stroke-width="0.95"/>
<circle cx="631.00" cy="184.01" r="2.20" fill="#8a8a8a" stroke="#000" stroke-width="0.95"/>
<circle cx="631.00" cy="213.72" r="2.20" fill="#8a8a8a" stroke="#000" stroke-width="0.95"/>
<circle cx="631.00" cy="209.47" r="2.20" fill="#8a8a8a" stroke="#000" stroke-width="0.95"/>
<line x1="579.40" y1="245.70" x2="601.50" y2="245.70" stroke="#000" stroke-width="1.50"/>
<line x1="610.80" y1="245.70" x2="632.50" y2="245.70" stroke="#000" stroke-width="1.50"/>
<text x="590.40" y="254.20" font-size="7.00" text-anchor="middle" font-weight="bold">WT</text>
<text x="621.20" y="254.20" font-size="7.00" text-anchor="middle" font-weight="bold">IL-4Ra<tspan font-size="4.76" dy="-2.38" stroke-width="0">-/-</tspan></text>
<circle cx="578.40" cy="145.60" r="1.90" fill="#fff" stroke="#000" stroke-width="1.15"/>
<circle cx="578.40" cy="153.60" r="1.90" fill="#8a8a8a" stroke="#000" stroke-width="1.15"/>
<text x="589.60" y="148.10" font-size="7.50" stroke="#000" stroke-width="0.26">Chow</text>
<text x="589.60" y="156.00" font-size="7.50" stroke="#000" stroke-width="0.26">HF</text>
<polyline points="582.40,189.20 582.40,186.40 596.60,186.40 596.60,189.20" fill="none" stroke="#000" stroke-width="1.00" stroke-linejoin="round"/>
<text x="589.60" y="186.90" font-size="8.30" text-anchor="middle" font-weight="bold">*</text>
<polyline points="612.40,178.00 612.40,175.00 627.60,175.00 627.60,178.00" fill="none" stroke="#000" stroke-width="1.00" stroke-linejoin="round"/>
<text x="620.40" y="175.90" font-size="8.30" text-anchor="middle" font-weight="bold">*</text>
<text x="548.40" y="192.50" font-size="6.90" text-anchor="middle" font-weight="bold" transform="rotate(-90 548.40 192.50)">GTT (AUC)</text>
</g>
<g>
<text x="10.00" y="273.60" font-size="8.20" font-weight="bold">J</text>
<line x1="43.90" y1="277.80" x2="43.90" y2="366.00" stroke="#000" stroke-width="1.50"/>
<line x1="41.45" y1="366.00" x2="43.90" y2="366.00" stroke="#000" stroke-width="1.40"/>
<text x="40.80" y="368.75" font-size="6.50" text-anchor="end" font-weight="bold">0</text>
<line x1="41.45" y1="336.80" x2="43.90" y2="336.80" stroke="#000" stroke-width="1.40"/>
<text x="40.80" y="339.55" font-size="6.50" text-anchor="end" font-weight="bold">2000</text>
<line x1="41.45" y1="307.60" x2="43.90" y2="307.60" stroke="#000" stroke-width="1.40"/>
<text x="40.80" y="310.35" font-size="6.50" text-anchor="end" font-weight="bold">4000</text>
<line x1="41.45" y1="278.40" x2="43.90" y2="278.40" stroke="#000" stroke-width="1.40"/>
<text x="40.80" y="281.15" font-size="6.50" text-anchor="end" font-weight="bold">6000</text>
<line x1="43.15" y1="366.00" x2="102.20" y2="366.00" stroke="#000" stroke-width="1.40"/>
<rect x="51.05" y="360.65" width="6.70" height="5.35" fill="#fff" stroke="#000" stroke-width="1.30"/>
<rect x="62.40" y="330.00" width="8.00" height="36.00" fill="#000"/>
<rect x="76.05" y="359.64" width="6.70" height="6.36" fill="#fff" stroke="#000" stroke-width="1.30"/>
<rect x="87.40" y="333.00" width="8.20" height="33.00" fill="#000"/>
<circle cx="54.40" cy="360.16" r="1.80" fill="#fff" stroke="#000" stroke-width="0.95"/>
<circle cx="56.65" cy="361.62" r="1.80" fill="#fff" stroke="#000" stroke-width="0.95"/>
<circle cx="56.65" cy="358.41" r="1.80" fill="#fff" stroke="#000" stroke-width="0.95"/>
<circle cx="54.40" cy="363.08" r="1.80" fill="#fff" stroke="#000" stroke-width="0.95"/>
<circle cx="54.40" cy="356.95" r="1.80" fill="#fff" stroke="#000" stroke-width="0.95"/>
<circle cx="57.40" cy="364.25" r="1.80" fill="#fff" stroke="#000" stroke-width="0.95"/>
<circle cx="56.65" cy="355.05" r="1.80" fill="#fff" stroke="#000" stroke-width="0.95"/>
<circle cx="51.40" cy="359.43" r="1.80" fill="#fff" stroke="#000" stroke-width="0.95"/>
<circle cx="52.90" cy="360.89" r="1.80" fill="#fff" stroke="#000" stroke-width="0.95"/>
<circle cx="66.40" cy="330.23" r="1.80" fill="#8a8a8a" stroke="#000" stroke-width="0.95"/>
<circle cx="67.90" cy="332.42" r="1.80" fill="#8a8a8a" stroke="#000" stroke-width="0.95"/>
<circle cx="66.40" cy="327.31" r="1.80" fill="#8a8a8a" stroke="#000" stroke-width="0.95"/>
<circle cx="66.40" cy="335.34" r="1.80" fill="#8a8a8a" stroke="#000" stroke-width="0.95"/>
<circle cx="67.90" cy="325.12" r="1.80" fill="#8a8a8a" stroke="#000" stroke-width="0.95"/>
<circle cx="66.40" cy="338.26" r="1.80" fill="#8a8a8a" stroke="#000" stroke-width="0.95"/>
<circle cx="66.40" cy="322.20" r="1.80" fill="#8a8a8a" stroke="#000" stroke-width="0.95"/>
<circle cx="66.40" cy="341.91" r="1.80" fill="#8a8a8a" stroke="#000" stroke-width="0.95"/>
<circle cx="69.40" cy="321.47" r="1.80" fill="#8a8a8a" stroke="#000" stroke-width="0.95"/>
<circle cx="66.40" cy="347.02" r="1.80" fill="#8a8a8a" stroke="#000" stroke-width="0.95"/>
<circle cx="66.40" cy="309.06" r="1.80" fill="#8a8a8a" stroke="#000" stroke-width="0.95"/>
<circle cx="69.40" cy="329.50" r="1.80" fill="#8a8a8a" stroke="#000" stroke-width="0.95"/>
<circle cx="64.15" cy="325.85" r="1.80" fill="#8a8a8a" stroke="#000" stroke-width="0.95"/>
<circle cx="79.40" cy="358.99" r="1.80" fill="#fff" stroke="#000" stroke-width="0.95"/>
<circle cx="81.65" cy="360.45" r="1.80" fill="#fff" stroke="#000" stroke-width="0.95"/>
<circle cx="81.65" cy="357.53" r="1.80" fill="#fff" stroke="#000" stroke-width="0.95"/>
<circle cx="79.40" cy="361.91" r="1.80" fill="#fff" stroke="#000" stroke-width="0.95"/>
<circle cx="79.40" cy="356.07" r="1.80" fill="#fff" stroke="#000" stroke-width="0.95"/>
<circle cx="82.40" cy="363.08" r="1.80" fill="#fff" stroke="#000" stroke-width="0.95"/>
<circle cx="81.65" cy="354.32" r="1.80" fill="#fff" stroke="#000" stroke-width="0.95"/>
<circle cx="79.40" cy="350.23" r="1.80" fill="#fff" stroke="#000" stroke-width="0.95"/>
<circle cx="76.40" cy="359.43" r="1.80" fill="#fff" stroke="#000" stroke-width="0.95"/>
<circle cx="91.50" cy="333.15" r="1.80" fill="#8a8a8a" stroke="#000" stroke-width="0.95"/>
<circle cx="93.00" cy="335.34" r="1.80" fill="#8a8a8a" stroke="#000" stroke-width="0.95"/>
<circle cx="93.75" cy="331.69" r="1.80" fill="#8a8a8a" stroke="#000" stroke-width="0.95"/>
<circle cx="91.50" cy="337.53" r="1.80" fill="#8a8a8a" stroke="#000" stroke-width="0.95"/>
<circle cx="90.00" cy="330.96" r="1.80" fill="#8a8a8a" stroke="#000" stroke-width="0.95"/>
<circle cx="91.50" cy="340.45" r="1.80" fill="#8a8a8a" stroke="#000" stroke-width="0.95"/>
<circle cx="91.50" cy="348.48" r="1.80" fill="#8a8a8a" stroke="#000" stroke-width="0.95"/>
<circle cx="91.50" cy="355.05" r="1.80" fill="#8a8a8a" stroke="#000" stroke-width="0.95"/>
<circle cx="91.50" cy="325.12" r="1.80" fill="#8a8a8a" stroke="#000" stroke-width="0.95"/>
<circle cx="88.50" cy="332.42" r="1.80" fill="#8a8a8a" stroke="#000" stroke-width="0.95"/>
<circle cx="94.50" cy="333.88" r="1.80" fill="#8a8a8a" stroke="#000" stroke-width="0.95"/>
<line x1="51.80" y1="370.30" x2="71.50" y2="370.30" stroke="#000" stroke-width="1.60"/>
<line x1="76.40" y1="370.30" x2="96.10" y2="370.30" stroke="#000" stroke-width="1.60"/>
<text x="61.00" y="379.20" font-size="6.40" text-anchor="middle" font-weight="bold">WT</text>
<text x="86.00" y="379.20" font-size="6.40" text-anchor="middle" font-weight="bold">IL-4Ra<tspan font-size="4.35" dy="-2.18" stroke-width="0">-/-</tspan></text>
<circle cx="52.00" cy="280.60" r="1.60" fill="#fff" stroke="#000" stroke-width="1.15"/>
<circle cx="52.00" cy="287.60" r="1.60" fill="#8a8a8a" stroke="#000" stroke-width="1.15"/>
<text x="62.00" y="282.90" font-size="6.60" stroke="#000" stroke-width="0.22">Chow</text>
<text x="62.00" y="290.00" font-size="6.60" stroke="#000" stroke-width="0.22">HF</text>
<polyline points="53.00,303.40 53.00,300.60 66.40,300.60 66.40,303.40" fill="none" stroke="#000" stroke-width="1.00" stroke-linejoin="round"/>
<text x="60.00" y="301.60" font-size="7.60" text-anchor="middle" font-weight="bold">****</text>
<polyline points="78.40,318.40 78.40,315.60 91.60,315.60 91.60,318.40" fill="none" stroke="#000" stroke-width="1.00" stroke-linejoin="round"/>
<text x="84.80" y="316.60" font-size="7.60" text-anchor="middle" font-weight="bold">****</text>
<text x="20.40" y="322.00" font-size="6.90" text-anchor="middle" stroke="#000" stroke-width="0.23" transform="rotate(-90 20.40 322.00)">Insulin (pg/ml)</text>
</g>
<g>
<text x="119.60" y="275.60" font-size="8.20" font-weight="bold">K</text>
<rect x="148.40" y="276.60" width="180.00" height="14.20" fill="#e3e3e3" stroke="#222" stroke-width="0.70"/>
<g filter="url(#bl)" clip-path="url(#kc0)">
<rect x="150.28" y="283.23" width="9.22" height="0.75" rx="1.3" fill="#000" opacity="0.10"/>
<rect x="161.48" y="283.53" width="9.22" height="0.75" rx="1.3" fill="#000" opacity="0.10"/>
<rect x="172.67" y="283.83" width="9.22" height="0.75" rx="1.3" fill="#000" opacity="0.10"/>
<rect x="183.87" y="284.03" width="9.22" height="0.75" rx="1.3" fill="#000" opacity="0.10"/>
<rect x="195.06" y="284.03" width="9.22" height="0.75" rx="1.3" fill="#000" opacity="0.10"/>
<rect x="206.25" y="283.93" width="9.22" height="0.75" rx="1.3" fill="#000" opacity="0.10"/>
<rect x="217.45" y="283.83" width="9.22" height="0.75" rx="1.3" fill="#000" opacity="0.10"/>
<rect x="228.64" y="283.73" width="9.22" height="0.75" rx="1.3" fill="#000" opacity="0.10"/>
<rect x="239.83" y="283.73" width="9.22" height="0.75" rx="1.3" fill="#000" opacity="0.10"/>
<rect x="251.03" y="283.73" width="9.22" height="0.75" rx="1.3" fill="#000" opacity="0.10"/>
<rect x="262.22" y="283.83" width="9.22" height="0.75" rx="1.3" fill="#000" opacity="0.10"/>
<rect x="273.42" y="283.93" width="9.22" height="0.75" rx="1.3" fill="#000" opacity="0.10"/>
<rect x="284.61" y="283.73" width="9.22" height="0.75" rx="1.3" fill="#000" opacity="0.10"/>
<rect x="295.80" y="283.43" width="9.22" height="0.75" rx="1.3" fill="#000" opacity="0.10"/>
<rect x="307.00" y="283.12" width="9.22" height="0.75" rx="1.3" fill="#000" opacity="0.10"/>
<rect x="318.19" y="282.73" width="9.22" height="0.75" rx="1.3" fill="#000" opacity="0.10"/>
</g>
<text x="146.40" y="285.60" font-size="6.60" text-anchor="end" font-weight="bold">p-IR</text>
<rect x="148.40" y="293.60" width="180.00" height="14.60" fill="#d9d9d9" stroke="#222" stroke-width="0.70"/>
<g filter="url(#bl)" clip-path="url(#kc1)">
<rect x="150.28" y="299.37" width="9.22" height="3.45" rx="1.3" fill="#000" opacity="0.90"/>
<rect x="161.48" y="299.64" width="9.22" height="3.52" rx="1.3" fill="#000" opacity="0.95"/>
<rect x="172.67" y="299.94" width="9.22" height="3.52" rx="1.3" fill="#000" opacity="0.95"/>
<rect x="183.87" y="300.17" width="9.22" height="3.45" rx="1.3" fill="#000" opacity="0.90"/>
<rect x="195.06" y="300.25" width="9.22" height="3.30" rx="1.3" fill="#000" opacity="0.80"/>
<rect x="206.25" y="300.19" width="9.22" height="3.22" rx="1.3" fill="#000" opacity="0.75"/>
<rect x="217.45" y="300.09" width="9.22" height="3.22" rx="1.3" fill="#000" opacity="0.75"/>
<rect x="228.64" y="300.02" width="9.22" height="3.15" rx="1.3" fill="#000" opacity="0.70"/>
<rect x="239.83" y="299.91" width="9.22" height="3.38" rx="1.3" fill="#000" opacity="0.85"/>
<rect x="251.03" y="299.81" width="9.22" height="3.57" rx="1.3" fill="#000" opacity="0.98"/>
<rect x="262.22" y="299.94" width="9.22" height="3.52" rx="1.3" fill="#000" opacity="0.95"/>
<rect x="273.42" y="300.07" width="9.22" height="3.45" rx="1.3" fill="#000" opacity="0.90"/>
<rect x="284.61" y="299.91" width="9.22" height="3.38" rx="1.3" fill="#000" opacity="0.85"/>
<rect x="295.80" y="299.69" width="9.22" height="3.22" rx="1.3" fill="#000" opacity="0.75"/>
<rect x="307.00" y="299.39" width="9.22" height="3.22" rx="1.3" fill="#000" opacity="0.75"/>
<rect x="318.19" y="298.87" width="9.22" height="3.45" rx="1.3" fill="#000" opacity="0.90"/>
</g>
<text x="146.40" y="302.80" font-size="6.60" text-anchor="end" font-weight="bold">t-IR</text>
<rect x="148.40" y="311.60" width="180.00" height="14.60" fill="#e9e9e9" stroke="#222" stroke-width="0.70"/>
<g filter="url(#bl)" clip-path="url(#kc2)">
<rect x="150.28" y="318.01" width="9.22" height="1.98" rx="1.3" fill="#000" opacity="0.12"/>
<rect x="161.48" y="318.34" width="9.22" height="1.92" rx="1.3" fill="#000" opacity="0.08"/>
<rect x="172.67" y="318.17" width="9.22" height="2.86" rx="1.3" fill="#000" opacity="0.80"/>
<rect x="183.87" y="318.66" width="9.22" height="2.27" rx="1.3" fill="#000" opacity="0.35"/>
<rect x="195.06" y="318.24" width="9.22" height="3.12" rx="1.3" fill="#000" opacity="1.00"/>
<rect x="206.25" y="318.43" width="9.22" height="2.54" rx="1.3" fill="#000" opacity="0.55"/>
<rect x="217.45" y="318.07" width="9.22" height="3.05" rx="1.3" fill="#000" opacity="0.95"/>
<rect x="228.64" y="317.97" width="9.22" height="3.05" rx="1.3" fill="#000" opacity="0.95"/>
<rect x="239.83" y="318.13" width="9.22" height="2.73" rx="1.3" fill="#000" opacity="0.70"/>
<rect x="251.03" y="318.39" width="9.22" height="2.21" rx="1.3" fill="#000" opacity="0.30"/>
<rect x="262.22" y="318.14" width="9.22" height="2.93" rx="1.3" fill="#000" opacity="0.85"/>
<rect x="273.42" y="318.59" width="9.22" height="2.21" rx="1.3" fill="#000" opacity="0.30"/>
<rect x="284.61" y="318.07" width="9.22" height="2.86" rx="1.3" fill="#000" opacity="0.80"/>
<rect x="295.80" y="317.65" width="9.22" height="3.09" rx="1.3" fill="#000" opacity="0.98"/>
<rect x="307.00" y="317.34" width="9.22" height="3.12" rx="1.3" fill="#000" opacity="1.00"/>
<rect x="318.19" y="316.97" width="9.22" height="3.05" rx="1.3" fill="#000" opacity="0.95"/>
</g>
<text x="146.40" y="321.60" font-size="6.60" text-anchor="end" font-weight="bold">p-Akt</text>
<rect x="148.40" y="329.00" width="180.00" height="15.20" fill="#e1e1e1" stroke="#222" stroke-width="0.70"/>
<g filter="url(#bl)" clip-path="url(#kc3)">
<rect x="150.28" y="335.55" width="9.22" height="2.70" rx="1.3" fill="#000" opacity="0.85"/>
<rect x="161.48" y="335.88" width="9.22" height="2.64" rx="1.3" fill="#000" opacity="0.80"/>
<rect x="172.67" y="336.18" width="9.22" height="2.64" rx="1.3" fill="#000" opacity="0.80"/>
<rect x="183.87" y="336.41" width="9.22" height="2.58" rx="1.3" fill="#000" opacity="0.75"/>
<rect x="195.06" y="336.35" width="9.22" height="2.70" rx="1.3" fill="#000" opacity="0.85"/>
<rect x="206.25" y="336.25" width="9.22" height="2.70" rx="1.3" fill="#000" opacity="0.85"/>
<rect x="217.45" y="336.18" width="9.22" height="2.64" rx="1.3" fill="#000" opacity="0.80"/>
<rect x="228.64" y="336.08" width="9.22" height="2.64" rx="1.3" fill="#000" opacity="0.80"/>
<rect x="239.83" y="336.14" width="9.22" height="2.52" rx="1.3" fill="#000" opacity="0.70"/>
<rect x="251.03" y="336.08" width="9.22" height="2.64" rx="1.3" fill="#000" opacity="0.80"/>
<rect x="262.22" y="336.21" width="9.22" height="2.58" rx="1.3" fill="#000" opacity="0.75"/>
<rect x="273.42" y="336.34" width="9.22" height="2.52" rx="1.3" fill="#000" opacity="0.70"/>
<rect x="284.61" y="336.11" width="9.22" height="2.58" rx="1.3" fill="#000" opacity="0.75"/>
<rect x="295.80" y="335.81" width="9.22" height="2.58" rx="1.3" fill="#000" opacity="0.75"/>
<rect x="307.00" y="335.51" width="9.22" height="2.58" rx="1.3" fill="#000" opacity="0.75"/>
<rect x="318.19" y="335.05" width="9.22" height="2.70" rx="1.3" fill="#000" opacity="0.85"/>
</g>
<text x="146.40" y="337.60" font-size="6.60" text-anchor="end" font-weight="bold">t-Akt</text>
<rect x="148.40" y="347.40" width="180.00" height="15.40" fill="#dddddd" stroke="#222" stroke-width="0.70"/>
<g filter="url(#bl)" clip-path="url(#kc4)">
<rect x="150.28" y="352.60" width="9.22" height="1.60" rx="1.2" fill="#000" opacity="0.38"/>
<rect x="150.28" y="355.00" width="9.22" height="2.99" rx="1.2" fill="#000" opacity="0.90"/>
<rect x="161.48" y="352.90" width="9.22" height="1.60" rx="1.2" fill="#000" opacity="0.27"/>
<rect x="161.48" y="355.30" width="9.22" height="2.67" rx="1.2" fill="#000" opacity="0.65"/>
<rect x="172.67" y="353.20" width="9.22" height="1.60" rx="1.2" fill="#000" opacity="0.29"/>
<rect x="172.67" y="355.60" width="9.22" height="2.73" rx="1.2" fill="#000" opacity="0.70"/>
<rect x="183.87" y="353.40" width="9.22" height="1.60" rx="1.2" fill="#000" opacity="0.27"/>
<rect x="183.87" y="355.80" width="9.22" height="2.67" rx="1.2" fill="#000" opacity="0.65"/>
<rect x="195.06" y="353.40" width="9.22" height="1.60" rx="1.2" fill="#000" opacity="0.42"/>
<rect x="195.06" y="355.80" width="9.22" height="3.12" rx="1.2" fill="#000" opacity="1.00"/>
<rect x="206.25" y="353.30" width="9.22" height="1.60" rx="1.2" fill="#000" opacity="0.25"/>
<rect x="206.25" y="355.70" width="9.22" height="2.60" rx="1.2" fill="#000" opacity="0.60"/>
<rect x="217.45" y="353.20" width="9.22" height="1.60" rx="1.2" fill="#000" opacity="0.34"/>
<rect x="217.45" y="355.60" width="9.22" height="2.86" rx="1.2" fill="#000" opacity="0.80"/>
<rect x="228.64" y="353.10" width="9.22" height="1.60" rx="1.2" fill="#000" opacity="0.38"/>
<rect x="228.64" y="355.50" width="9.22" height="2.99" rx="1.2" fill="#000" opacity="0.90"/>
<rect x="239.83" y="353.10" width="9.22" height="1.60" rx="1.2" fill="#000" opacity="0.38"/>
<rect x="239.83" y="355.50" width="9.22" height="2.99" rx="1.2" fill="#000" opacity="0.90"/>
<rect x="251.03" y="353.10" width="9.22" height="1.60" rx="1.2" fill="#000" opacity="0.36"/>
<rect x="251.03" y="355.50" width="9.22" height="2.93" rx="1.2" fill="#000" opacity="0.85"/>
<rect x="262.22" y="353.20" width="9.22" height="1.60" rx="1.2" fill="#000" opacity="0.36"/>
<rect x="262.22" y="355.60" width="9.22" height="2.93" rx="1.2" fill="#000" opacity="0.85"/>
<rect x="273.42" y="353.30" width="9.22" height="1.60" rx="1.2" fill="#000" opacity="0.34"/>
<rect x="273.42" y="355.70" width="9.22" height="2.86" rx="1.2" fill="#000" opacity="0.80"/>
<rect x="284.61" y="353.10" width="9.22" height="1.60" rx="1.2" fill="#000" opacity="0.23"/>
<rect x="284.61" y="355.50" width="9.22" height="2.54" rx="1.2" fill="#000" opacity="0.55"/>
<rect x="295.80" y="352.80" width="9.22" height="1.60" rx="1.2" fill="#000" opacity="0.34"/>
<rect x="295.80" y="355.20" width="9.22" height="2.86" rx="1.2" fill="#000" opacity="0.80"/>
<rect x="307.00" y="352.50" width="9.22" height="1.60" rx="1.2" fill="#000" opacity="0.38"/>
<rect x="307.00" y="354.90" width="9.22" height="2.99" rx="1.2" fill="#000" opacity="0.90"/>
<rect x="318.19" y="352.10" width="9.22" height="1.60" rx="1.2" fill="#000" opacity="0.42"/>
<rect x="318.19" y="354.50" width="9.22" height="3.12" rx="1.2" fill="#000" opacity="1.00"/>
</g>
<text x="146.40" y="357.00" font-size="6.60" text-anchor="end" font-weight="bold">p-Erk1/2</text>
<rect x="148.40" y="366.00" width="180.00" height="15.80" fill="#ebebeb" stroke="#222" stroke-width="0.70"/>
<g filter="url(#bl)" clip-path="url(#kc5)">
<rect x="150.28" y="373.15" width="9.22" height="3.29" rx="1.3" fill="#000" opacity="0.95"/>
<rect x="161.48" y="373.49" width="9.22" height="3.22" rx="1.3" fill="#000" opacity="0.90"/>
<rect x="172.67" y="373.79" width="9.22" height="3.22" rx="1.3" fill="#000" opacity="0.90"/>
<rect x="183.87" y="373.99" width="9.22" height="3.22" rx="1.3" fill="#000" opacity="0.90"/>
<rect x="195.06" y="373.99" width="9.22" height="3.22" rx="1.3" fill="#000" opacity="0.90"/>
<rect x="206.25" y="373.92" width="9.22" height="3.15" rx="1.3" fill="#000" opacity="0.85"/>
<rect x="217.45" y="373.79" width="9.22" height="3.22" rx="1.3" fill="#000" opacity="0.90"/>
<rect x="228.64" y="373.65" width="9.22" height="3.29" rx="1.3" fill="#000" opacity="0.95"/>
<rect x="239.83" y="373.69" width="9.22" height="3.22" rx="1.3" fill="#000" opacity="0.90"/>
<rect x="251.03" y="373.76" width="9.22" height="3.08" rx="1.3" fill="#000" opacity="0.80"/>
<rect x="262.22" y="373.82" width="9.22" height="3.15" rx="1.3" fill="#000" opacity="0.85"/>
<rect x="273.42" y="373.89" width="9.22" height="3.22" rx="1.3" fill="#000" opacity="0.90"/>
<rect x="284.61" y="373.72" width="9.22" height="3.15" rx="1.3" fill="#000" opacity="0.85"/>
<rect x="295.80" y="373.35" width="9.22" height="3.29" rx="1.3" fill="#000" opacity="0.95"/>
<rect x="307.00" y="373.09" width="9.22" height="3.22" rx="1.3" fill="#000" opacity="0.90"/>
<rect x="318.19" y="372.69" width="9.22" height="3.22" rx="1.3" fill="#000" opacity="0.90"/>
</g>
<text x="146.40" y="374.80" font-size="6.60" text-anchor="end" font-weight="bold">t-Erk1/2</text>
<line x1="194.20" y1="265" x2="194.20" y2="387.5" stroke="#222" stroke-width="0.65" stroke-dasharray="1.1 1.0"/>
<line x1="239.30" y1="265" x2="239.30" y2="387.5" stroke="#222" stroke-width="0.65" stroke-dasharray="1.1 1.0"/>
<line x1="282.80" y1="265" x2="282.80" y2="387.5" stroke="#222" stroke-width="0.65" stroke-dasharray="1.1 1.0"/>
<text x="171.60" y="263.70" font-size="6.60" text-anchor="middle" font-weight="bold">WT</text>
<text x="171.60" y="271.90" font-size="6.60" text-anchor="middle" font-weight="bold">CD</text>
<text x="218.60" y="263.70" font-size="6.60" text-anchor="middle" font-weight="bold">WT</text>
<text x="218.60" y="271.90" font-size="6.60" text-anchor="middle" font-weight="bold">HF</text>
<text x="261.60" y="263.70" font-size="6.60" text-anchor="middle" font-weight="bold">IL-4Ra<tspan font-size="4.49" dy="-2.24" stroke-width="0">-/-</tspan></text>
<text x="260.80" y="271.90" font-size="6.60" text-anchor="middle" font-weight="bold">CD</text>
<text x="305.80" y="263.70" font-size="6.60" text-anchor="middle" font-weight="bold">IL-4Ra<tspan font-size="4.49" dy="-2.24" stroke-width="0">-/-</tspan></text>
<text x="305.00" y="271.90" font-size="6.60" text-anchor="middle" font-weight="bold">HF</text>
</g>
<g>
<line x1="369.90" y1="280.00" x2="369.90" y2="370.40" stroke="#000" stroke-width="1.25"/>
<line x1="367.58" y1="370.40" x2="369.90" y2="370.40" stroke="#000" stroke-width="1.25"/>
<text x="366.00" y="373.04" font-size="6.80" text-anchor="end" font-weight="bold">0.0</text>
<line x1="367.58" y1="352.44" x2="369.90" y2="352.44" stroke="#000" stroke-width="1.25"/>
<text x="366.00" y="355.08" font-size="6.80" text-anchor="end" font-weight="bold">0.5</text>
<line x1="367.58" y1="334.48" x2="369.90" y2="334.48" stroke="#000" stroke-width="1.25"/>
<text x="366.00" y="337.12" font-size="6.80" text-anchor="end" font-weight="bold">1.0</text>
<line x1="367.58" y1="316.52" x2="369.90" y2="316.52" stroke="#000" stroke-width="1.25"/>
<text x="366.00" y="319.16" font-size="6.80" text-anchor="end" font-weight="bold">1.5</text>
<line x1="367.58" y1="298.56" x2="369.90" y2="298.56" stroke="#000" stroke-width="1.25"/>
<text x="366.00" y="301.20" font-size="6.80" text-anchor="end" font-weight="bold">2.0</text>
<line x1="367.58" y1="280.60" x2="369.90" y2="280.60" stroke="#000" stroke-width="1.25"/>
<text x="366.00" y="283.24" font-size="6.80" text-anchor="end" font-weight="bold">2.5</text>
<line x1="369.28" y1="370.40" x2="429.20" y2="370.40" stroke="#000" stroke-width="1.10"/>
<rect x="376.65" y="347.70" width="5.90" height="22.70" fill="#fff" stroke="#000" stroke-width="1.30"/>
<rect x="387.40" y="329.45" width="7.40" height="40.95" fill="#000"/>
<rect x="406.65" y="348.42" width="5.90" height="21.98" fill="#fff" stroke="#000" stroke-width="1.30"/>
<rect x="417.00" y="338.97" width="7.40" height="31.43" fill="#000"/>
<line x1="379.60" y1="344.54" x2="379.60" y2="349.57" stroke="#000" stroke-width="0.90"/>
<line x1="377.40" y1="344.54" x2="381.80" y2="344.54" stroke="#000" stroke-width="0.90"/>
<line x1="377.40" y1="349.57" x2="381.80" y2="349.57" stroke="#000" stroke-width="0.90"/>
<line x1="391.10" y1="327.30" x2="391.10" y2="329.45" stroke="#000" stroke-width="0.90"/>
<line x1="388.90" y1="327.30" x2="393.30" y2="327.30" stroke="#000" stroke-width="0.90"/>
<line x1="409.60" y1="345.26" x2="409.60" y2="350.28" stroke="#000" stroke-width="0.90"/>
<line x1="407.40" y1="345.26" x2="411.80" y2="345.26" stroke="#000" stroke-width="0.90"/>
<line x1="407.40" y1="350.28" x2="411.80" y2="350.28" stroke="#000" stroke-width="0.90"/>
<line x1="420.70" y1="336.99" x2="420.70" y2="338.97" stroke="#000" stroke-width="0.90"/>
<line x1="418.50" y1="336.99" x2="422.90" y2="336.99" stroke="#000" stroke-width="0.90"/>
<circle cx="378.00" cy="350.28" r="1.90" fill="#fff" stroke="#000" stroke-width="0.80"/>
<circle cx="381.20" cy="348.85" r="1.90" fill="#fff" stroke="#000" stroke-width="0.80"/>
<circle cx="379.60" cy="344.54" r="1.90" fill="#fff" stroke="#000" stroke-width="0.80"/>
<circle cx="379.90" cy="339.87" r="1.90" fill="#fff" stroke="#000" stroke-width="0.80"/>
<circle cx="389.30" cy="327.30" r="1.90" fill="#8a8a8a" stroke="#000" stroke-width="0.80"/>
<circle cx="392.90" cy="327.30" r="1.90" fill="#8a8a8a" stroke="#000" stroke-width="0.80"/>
<circle cx="391.10" cy="334.48" r="1.90" fill="#8a8a8a" stroke="#000" stroke-width="0.80"/>
<circle cx="391.50" cy="328.01" r="1.90" fill="#8a8a8a" stroke="#000" stroke-width="0.80"/>
<circle cx="407.80" cy="345.26" r="1.90" fill="#fff" stroke="#000" stroke-width="0.80"/>
<circle cx="411.40" cy="345.26" r="1.90" fill="#fff" stroke="#000" stroke-width="0.80"/>
<circle cx="409.60" cy="348.85" r="1.90" fill="#fff" stroke="#000" stroke-width="0.80"/>
<circle cx="409.60" cy="353.16" r="1.90" fill="#fff" stroke="#000" stroke-width="0.80"/>
<circle cx="419.10" cy="337.35" r="1.90" fill="#8a8a8a" stroke="#000" stroke-width="0.80"/>
<circle cx="422.50" cy="335.56" r="1.90" fill="#8a8a8a" stroke="#000" stroke-width="0.80"/>
<circle cx="420.70" cy="340.23" r="1.90" fill="#8a8a8a" stroke="#000" stroke-width="0.80"/>
<circle cx="422.50" cy="340.23" r="1.90" fill="#8a8a8a" stroke="#000" stroke-width="0.80"/>
<line x1="375.40" y1="374.30" x2="395.50" y2="374.30" stroke="#000" stroke-width="1.50"/>
<line x1="405.00" y1="374.30" x2="425.10" y2="374.30" stroke="#000" stroke-width="1.50"/>
<text x="385.40" y="383.20" font-size="6.60" text-anchor="middle" font-weight="bold">WT</text>
<text x="415.20" y="383.20" font-size="6.60" text-anchor="middle" font-weight="bold">IL-4Ra<tspan font-size="4.49" dy="-2.24" stroke-width="0">-/-</tspan></text>
<circle cx="378.60" cy="282.60" r="1.80" fill="#fff" stroke="#000" stroke-width="1.15"/>
<circle cx="378.60" cy="288.60" r="1.80" fill="#8a8a8a" stroke="#000" stroke-width="1.15"/>
<text x="389.00" y="284.70" font-size="6.90" stroke="#000" stroke-width="0.23">Chow</text>
<text x="389.00" y="290.80" font-size="6.90" stroke="#000" stroke-width="0.23">HF</text>
<text x="353.20" y="325.50" font-size="7.00" text-anchor="middle" font-weight="bold" transform="rotate(-90 353.20 325.50)">p-IR / total-IR</text>
<polyline points="379.40,319.80 379.40,317.00 391.40,317.00 391.40,319.80" fill="none" stroke="#000" stroke-width="1.00" stroke-linejoin="round"/>
<text x="385.40" y="318.10" font-size="8.00" text-anchor="middle" font-weight="bold">**</text>
<line x1="461.30" y1="280.00" x2="461.30" y2="370.40" stroke="#000" stroke-width="1.25"/>
<line x1="458.97" y1="370.40" x2="461.30" y2="370.40" stroke="#000" stroke-width="1.25"/>
<text x="457.20" y="373.04" font-size="6.80" text-anchor="end" font-weight="bold">0.0</text>
<line x1="458.97" y1="347.95" x2="461.30" y2="347.95" stroke="#000" stroke-width="1.25"/>
<text x="457.20" y="350.59" font-size="6.80" text-anchor="end" font-weight="bold">0.5</text>
<line x1="458.97" y1="325.50" x2="461.30" y2="325.50" stroke="#000" stroke-width="1.25"/>
<text x="457.20" y="328.14" font-size="6.80" text-anchor="end" font-weight="bold">1.0</text>
<line x1="458.97" y1="303.05" x2="461.30" y2="303.05" stroke="#000" stroke-width="1.25"/>
<text x="457.20" y="305.69" font-size="6.80" text-anchor="end" font-weight="bold">1.5</text>
<line x1="458.97" y1="280.60" x2="461.30" y2="280.60" stroke="#000" stroke-width="1.25"/>
<text x="457.20" y="283.24" font-size="6.80" text-anchor="end" font-weight="bold">2.0</text>
<line x1="460.67" y1="370.40" x2="520.80" y2="370.40" stroke="#000" stroke-width="1.10"/>
<rect x="467.65" y="354.66" width="6.10" height="15.74" fill="#fff" stroke="#000" stroke-width="1.30"/>
<rect x="478.40" y="320.56" width="7.20" height="49.84" fill="#000"/>
<rect x="497.65" y="331.67" width="5.90" height="38.73" fill="#fff" stroke="#000" stroke-width="1.30"/>
<rect x="508.00" y="312.03" width="7.40" height="58.37" fill="#000"/>
<line x1="470.70" y1="347.95" x2="470.70" y2="360.52" stroke="#000" stroke-width="0.90"/>
<line x1="468.50" y1="347.95" x2="472.90" y2="347.95" stroke="#000" stroke-width="0.90"/>
<line x1="468.50" y1="360.52" x2="472.90" y2="360.52" stroke="#000" stroke-width="0.90"/>
<line x1="482.00" y1="312.48" x2="482.00" y2="320.56" stroke="#000" stroke-width="0.90"/>
<line x1="479.80" y1="312.48" x2="484.20" y2="312.48" stroke="#000" stroke-width="0.90"/>
<line x1="500.60" y1="325.50" x2="500.60" y2="336.73" stroke="#000" stroke-width="0.90"/>
<line x1="498.40" y1="325.50" x2="502.80" y2="325.50" stroke="#000" stroke-width="0.90"/>
<line x1="498.40" y1="336.73" x2="502.80" y2="336.73" stroke="#000" stroke-width="0.90"/>
<line x1="511.70" y1="306.19" x2="511.70" y2="312.03" stroke="#000" stroke-width="0.90"/>
<line x1="509.50" y1="306.19" x2="513.90" y2="306.19" stroke="#000" stroke-width="0.90"/>
<circle cx="470.70" cy="338.07" r="1.90" fill="#fff" stroke="#000" stroke-width="0.80"/>
<circle cx="470.70" cy="350.19" r="1.90" fill="#fff" stroke="#000" stroke-width="0.80"/>
<circle cx="468.70" cy="364.56" r="1.90" fill="#fff" stroke="#000" stroke-width="0.80"/>
<circle cx="472.70" cy="363.66" r="1.90" fill="#fff" stroke="#000" stroke-width="0.80"/>
<circle cx="480.40" cy="311.13" r="1.90" fill="#8a8a8a" stroke="#000" stroke-width="0.80"/>
<circle cx="483.80" cy="310.23" r="1.90" fill="#8a8a8a" stroke="#000" stroke-width="0.80"/>
<circle cx="483.60" cy="314.72" r="1.90" fill="#8a8a8a" stroke="#000" stroke-width="0.80"/>
<circle cx="482.00" cy="344.36" r="1.90" fill="#8a8a8a" stroke="#000" stroke-width="0.80"/>
<circle cx="498.80" cy="321.91" r="1.90" fill="#fff" stroke="#000" stroke-width="0.80"/>
<circle cx="502.40" cy="321.46" r="1.90" fill="#fff" stroke="#000" stroke-width="0.80"/>
<circle cx="499.00" cy="340.77" r="1.90" fill="#fff" stroke="#000" stroke-width="0.80"/>
<circle cx="502.20" cy="338.97" r="1.90" fill="#fff" stroke="#000" stroke-width="0.80"/>
<circle cx="511.70" cy="301.70" r="1.90" fill="#8a8a8a" stroke="#000" stroke-width="0.80"/>
<circle cx="511.70" cy="305.74" r="1.90" fill="#8a8a8a" stroke="#000" stroke-width="0.80"/>
<circle cx="510.50" cy="321.91" r="1.90" fill="#8a8a8a" stroke="#000" stroke-width="0.80"/>
<circle cx="513.70" cy="318.76" r="1.90" fill="#8a8a8a" stroke="#000" stroke-width="0.80"/>
<line x1="466.40" y1="374.00" x2="486.50" y2="374.00" stroke="#000" stroke-width="1.50"/>
<line x1="495.40" y1="374.00" x2="515.90" y2="374.00" stroke="#000" stroke-width="1.50"/>
<text x="476.60" y="383.20" font-size="6.60" text-anchor="middle" font-weight="bold">WT</text>
<text x="506.40" y="383.20" font-size="6.60" text-anchor="middle" font-weight="bold">IL-4Ra<tspan font-size="4.49" dy="-2.24" stroke-width="0">-/-</tspan></text>
<circle cx="470.00" cy="282.00" r="1.80" fill="#fff" stroke="#000" stroke-width="1.15"/>
<circle cx="470.00" cy="288.40" r="1.80" fill="#8a8a8a" stroke="#000" stroke-width="1.15"/>
<text x="480.40" y="284.50" font-size="6.90" stroke="#000" stroke-width="0.23">Chow</text>
<text x="480.40" y="290.70" font-size="6.90" stroke="#000" stroke-width="0.23">HF</text>
<text x="442.80" y="325.50" font-size="7.00" text-anchor="middle" font-weight="bold" transform="rotate(-90 442.80 325.50)">p-Akt / total-Akt</text>
<polyline points="470.60,303.40 470.60,300.60 482.00,300.60 482.00,303.40" fill="none" stroke="#000" stroke-width="1.00" stroke-linejoin="round"/>
<text x="476.30" y="301.70" font-size="8.00" text-anchor="middle" font-weight="bold">*</text>
<line x1="555.30" y1="281.40" x2="555.30" y2="370.40" stroke="#000" stroke-width="1.25"/>
<line x1="552.97" y1="370.40" x2="555.30" y2="370.40" stroke="#000" stroke-width="1.25"/>
<text x="551.20" y="373.04" font-size="6.80" text-anchor="end" font-weight="bold">0.0</text>
<line x1="552.97" y1="348.30" x2="555.30" y2="348.30" stroke="#000" stroke-width="1.25"/>
<text x="551.20" y="350.94" font-size="6.80" text-anchor="end" font-weight="bold">0.5</text>
<line x1="552.97" y1="326.20" x2="555.30" y2="326.20" stroke="#000" stroke-width="1.25"/>
<text x="551.20" y="328.84" font-size="6.80" text-anchor="end" font-weight="bold">1.0</text>
<line x1="552.97" y1="304.10" x2="555.30" y2="304.10" stroke="#000" stroke-width="1.25"/>
<text x="551.20" y="306.74" font-size="6.80" text-anchor="end" font-weight="bold">1.5</text>
<line x1="552.97" y1="282.00" x2="555.30" y2="282.00" stroke="#000" stroke-width="1.25"/>
<text x="551.20" y="284.64" font-size="6.80" text-anchor="end" font-weight="bold">2.0</text>
<line x1="554.67" y1="370.40" x2="613.80" y2="370.40" stroke="#000" stroke-width="1.10"/>
<rect x="560.25" y="339.23" width="6.50" height="31.17" fill="#fff" stroke="#000" stroke-width="1.30"/>
<rect x="572.40" y="326.20" width="7.60" height="44.20" fill="#000"/>
<rect x="589.65" y="327.73" width="6.50" height="42.67" fill="#fff" stroke="#000" stroke-width="1.30"/>
<rect x="601.60" y="330.62" width="7.80" height="39.78" fill="#000"/>
<line x1="563.50" y1="336.37" x2="563.50" y2="340.79" stroke="#000" stroke-width="0.90"/>
<line x1="561.30" y1="336.37" x2="565.70" y2="336.37" stroke="#000" stroke-width="0.90"/>
<line x1="561.30" y1="340.79" x2="565.70" y2="340.79" stroke="#000" stroke-width="0.90"/>
<line x1="576.20" y1="320.90" x2="576.20" y2="326.20" stroke="#000" stroke-width="0.90"/>
<line x1="574.00" y1="320.90" x2="578.40" y2="320.90" stroke="#000" stroke-width="0.90"/>
<line x1="592.90" y1="322.66" x2="592.90" y2="331.50" stroke="#000" stroke-width="0.90"/>
<line x1="590.70" y1="322.66" x2="595.10" y2="322.66" stroke="#000" stroke-width="0.90"/>
<line x1="590.70" y1="331.50" x2="595.10" y2="331.50" stroke="#000" stroke-width="0.90"/>
<line x1="605.50" y1="323.99" x2="605.50" y2="330.62" stroke="#000" stroke-width="0.90"/>
<line x1="603.30" y1="323.99" x2="607.70" y2="323.99" stroke="#000" stroke-width="0.90"/>
<circle cx="563.50" cy="332.83" r="1.90" fill="#fff" stroke="#000" stroke-width="0.80"/>
<circle cx="561.30" cy="341.23" r="1.90" fill="#fff" stroke="#000" stroke-width="0.80"/>
<circle cx="565.70" cy="340.34" r="1.90" fill="#fff" stroke="#000" stroke-width="0.80"/>
<circle cx="563.50" cy="339.46" r="1.90" fill="#fff" stroke="#000" stroke-width="0.80"/>
<circle cx="576.20" cy="312.06" r="1.90" fill="#8a8a8a" stroke="#000" stroke-width="0.80"/>
<circle cx="573.80" cy="328.41" r="1.90" fill="#8a8a8a" stroke="#000" stroke-width="0.80"/>
<circle cx="578.80" cy="329.29" r="1.90" fill="#8a8a8a" stroke="#000" stroke-width="0.80"/>
<circle cx="574.00" cy="332.39" r="1.90" fill="#8a8a8a" stroke="#000" stroke-width="0.80"/>
<circle cx="590.50" cy="321.78" r="1.90" fill="#fff" stroke="#000" stroke-width="0.80"/>
<circle cx="595.30" cy="320.01" r="1.90" fill="#fff" stroke="#000" stroke-width="0.80"/>
<circle cx="592.90" cy="336.81" r="1.90" fill="#fff" stroke="#000" stroke-width="0.80"/>
<circle cx="592.90" cy="327.08" r="1.90" fill="#fff" stroke="#000" stroke-width="0.80"/>
<circle cx="605.50" cy="314.27" r="1.90" fill="#8a8a8a" stroke="#000" stroke-width="0.80"/>
<circle cx="603.10" cy="340.79" r="1.90" fill="#8a8a8a" stroke="#000" stroke-width="0.80"/>
<circle cx="608.30" cy="338.13" r="1.90" fill="#8a8a8a" stroke="#000" stroke-width="0.80"/>
<circle cx="605.50" cy="328.41" r="1.90" fill="#8a8a8a" stroke="#000" stroke-width="0.80"/>
<line x1="558.00" y1="374.30" x2="578.10" y2="374.30" stroke="#000" stroke-width="1.50"/>
<line x1="588.40" y1="374.30" x2="608.50" y2="374.30" stroke="#000" stroke-width="1.50"/>
<text x="568.00" y="383.20" font-size="6.60" text-anchor="middle" font-weight="bold">WT</text>
<text x="598.00" y="383.20" font-size="6.60" text-anchor="middle" font-weight="bold">IL-4Ra<tspan font-size="4.49" dy="-2.24" stroke-width="0">-/-</tspan></text>
<circle cx="565.00" cy="283.60" r="1.80" fill="#fff" stroke="#000" stroke-width="1.15"/>
<circle cx="565.00" cy="290.00" r="1.80" fill="#8a8a8a" stroke="#000" stroke-width="1.15"/>
<text x="575.40" y="285.80" font-size="6.90" stroke="#000" stroke-width="0.23">Chow</text>
<text x="575.40" y="292.20" font-size="6.90" stroke="#000" stroke-width="0.23">HF</text>
<text x="537.80" y="325.50" font-size="7.00" text-anchor="middle" font-weight="bold" transform="rotate(-90 537.80 325.50)">p-Erk1/2 / total-Erk1/2</text>
</g>
<g>
<text x="7.80" y="404.60" font-size="8.20" font-weight="bold">L</text>
<line x1="48.40" y1="411.80" x2="48.40" y2="502.00" stroke="#000" stroke-width="1.50"/>
<line x1="45.95" y1="502.00" x2="48.40" y2="502.00" stroke="#000" stroke-width="1.40"/>
<text x="44.70" y="504.38" font-size="6.60" text-anchor="end" font-weight="bold">0</text>
<line x1="45.95" y1="479.60" x2="48.40" y2="479.60" stroke="#000" stroke-width="1.40"/>
<text x="44.70" y="481.98" font-size="6.60" text-anchor="end" font-weight="bold">10000</text>
<line x1="45.95" y1="457.20" x2="48.40" y2="457.20" stroke="#000" stroke-width="1.40"/>
<text x="44.70" y="459.58" font-size="6.60" text-anchor="end" font-weight="bold">20000</text>
<line x1="45.95" y1="434.80" x2="48.40" y2="434.80" stroke="#000" stroke-width="1.40"/>
<text x="44.70" y="437.18" font-size="6.60" text-anchor="end" font-weight="bold">30000</text>
<line x1="45.95" y1="412.40" x2="48.40" y2="412.40" stroke="#000" stroke-width="1.40"/>
<text x="44.70" y="414.78" font-size="6.60" text-anchor="end" font-weight="bold">40000</text>
<line x1="47.65" y1="502.00" x2="106.20" y2="502.00" stroke="#000" stroke-width="1.40"/>
<rect x="56.05" y="492.65" width="6.30" height="9.35" fill="#fff" stroke="#000" stroke-width="1.30"/>
<rect x="67.40" y="461.01" width="8.20" height="40.99" fill="#000"/>
<rect x="80.65" y="496.65" width="6.70" height="5.35" fill="#fff" stroke="#000" stroke-width="1.30"/>
<rect x="92.40" y="463.02" width="8.00" height="38.98" fill="#000"/>
<circle cx="59.20" cy="492.14" r="1.90" fill="#fff" stroke="#000" stroke-width="0.95"/>
<circle cx="61.45" cy="493.94" r="1.90" fill="#fff" stroke="#000" stroke-width="0.95"/>
<circle cx="61.45" cy="490.35" r="1.90" fill="#fff" stroke="#000" stroke-width="0.95"/>
<circle cx="59.20" cy="495.73" r="1.90" fill="#fff" stroke="#000" stroke-width="0.95"/>
<circle cx="59.20" cy="488.56" r="1.90" fill="#fff" stroke="#000" stroke-width="0.95"/>
<circle cx="56.20" cy="494.83" r="1.90" fill="#fff" stroke="#000" stroke-width="0.95"/>
<circle cx="61.45" cy="486.32" r="1.90" fill="#fff" stroke="#000" stroke-width="0.95"/>
<circle cx="59.20" cy="482.96" r="1.90" fill="#fff" stroke="#000" stroke-width="0.95"/>
<circle cx="56.20" cy="491.25" r="1.90" fill="#fff" stroke="#000" stroke-width="0.95"/>
<circle cx="56.95" cy="493.04" r="1.90" fill="#fff" stroke="#000" stroke-width="0.95"/>
<circle cx="71.50" cy="461.01" r="1.90" fill="#8a8a8a" stroke="#000" stroke-width="0.95"/>
<circle cx="73.00" cy="463.47" r="1.90" fill="#8a8a8a" stroke="#000" stroke-width="0.95"/>
<circle cx="73.75" cy="458.99" r="1.90" fill="#8a8a8a" stroke="#000" stroke-width="0.95"/>
<circle cx="71.50" cy="466.16" r="1.90" fill="#8a8a8a" stroke="#000" stroke-width="0.95"/>
<circle cx="70.75" cy="457.65" r="1.90" fill="#8a8a8a" stroke="#000" stroke-width="0.95"/>
<circle cx="73.75" cy="468.40" r="1.90" fill="#8a8a8a" stroke="#000" stroke-width="0.95"/>
<circle cx="73.00" cy="456.53" r="1.90" fill="#8a8a8a" stroke="#000" stroke-width="0.95"/>
<circle cx="71.50" cy="471.54" r="1.90" fill="#8a8a8a" stroke="#000" stroke-width="0.95"/>
<circle cx="71.50" cy="448.24" r="1.90" fill="#8a8a8a" stroke="#000" stroke-width="0.95"/>
<circle cx="68.50" cy="459.89" r="1.90" fill="#8a8a8a" stroke="#000" stroke-width="0.95"/>
<circle cx="69.25" cy="462.13" r="1.90" fill="#8a8a8a" stroke="#000" stroke-width="0.95"/>
<circle cx="84.00" cy="495.95" r="1.90" fill="#fff" stroke="#000" stroke-width="0.95"/>
<circle cx="87.00" cy="497.07" r="1.90" fill="#fff" stroke="#000" stroke-width="0.95"/>
<circle cx="81.00" cy="494.83" r="1.90" fill="#fff" stroke="#000" stroke-width="0.95"/>
<circle cx="81.75" cy="497.97" r="1.90" fill="#fff" stroke="#000" stroke-width="0.95"/>
<circle cx="86.25" cy="493.71" r="1.90" fill="#fff" stroke="#000" stroke-width="0.95"/>
<circle cx="85.50" cy="496.40" r="1.90" fill="#fff" stroke="#000" stroke-width="0.95"/>
<circle cx="83.25" cy="492.59" r="1.90" fill="#fff" stroke="#000" stroke-width="0.95"/>
<circle cx="81.00" cy="491.70" r="1.90" fill="#fff" stroke="#000" stroke-width="0.95"/>
<circle cx="87.00" cy="495.28" r="1.90" fill="#fff" stroke="#000" stroke-width="0.95"/>
<circle cx="84.00" cy="497.52" r="1.90" fill="#fff" stroke="#000" stroke-width="0.95"/>
<circle cx="96.40" cy="463.02" r="1.90" fill="#8a8a8a" stroke="#000" stroke-width="0.95"/>
<circle cx="97.15" cy="465.71" r="1.90" fill="#8a8a8a" stroke="#000" stroke-width="0.95"/>
<circle cx="98.65" cy="460.78" r="1.90" fill="#8a8a8a" stroke="#000" stroke-width="0.95"/>
<circle cx="94.90" cy="467.95" r="1.90" fill="#8a8a8a" stroke="#000" stroke-width="0.95"/>
<circle cx="95.65" cy="459.44" r="1.90" fill="#8a8a8a" stroke="#000" stroke-width="0.95"/>
<circle cx="96.40" cy="470.64" r="1.90" fill="#8a8a8a" stroke="#000" stroke-width="0.95"/>
<circle cx="97.90" cy="458.32" r="1.90" fill="#8a8a8a" stroke="#000" stroke-width="0.95"/>
<circle cx="96.40" cy="477.36" r="1.90" fill="#8a8a8a" stroke="#000" stroke-width="0.95"/>
<circle cx="96.40" cy="449.36" r="1.90" fill="#8a8a8a" stroke="#000" stroke-width="0.95"/>
<circle cx="99.40" cy="448.24" r="1.90" fill="#8a8a8a" stroke="#000" stroke-width="0.95"/>
<circle cx="93.40" cy="464.37" r="1.90" fill="#8a8a8a" stroke="#000" stroke-width="0.95"/>
<circle cx="94.15" cy="461.90" r="1.90" fill="#8a8a8a" stroke="#000" stroke-width="0.95"/>
<circle cx="99.40" cy="471.76" r="1.90" fill="#8a8a8a" stroke="#000" stroke-width="0.95"/>
<line x1="54.80" y1="505.90" x2="74.90" y2="505.90" stroke="#000" stroke-width="1.70"/>
<line x1="81.40" y1="505.90" x2="100.50" y2="505.90" stroke="#000" stroke-width="1.70"/>
<text x="66.00" y="515.20" font-size="6.40" text-anchor="middle" font-weight="bold">WT</text>
<text x="91.00" y="515.20" font-size="6.40" text-anchor="middle" font-weight="bold">IL-4Ra<tspan font-size="4.35" dy="-2.18" stroke-width="0">-/-</tspan></text>
<circle cx="55.40" cy="414.40" r="1.70" fill="#fff" stroke="#000" stroke-width="1.15"/>
<circle cx="55.40" cy="421.00" r="1.70" fill="#8a8a8a" stroke="#000" stroke-width="1.15"/>
<text x="66.00" y="416.50" font-size="6.40" stroke="#000" stroke-width="0.22">Chow</text>
<text x="66.00" y="423.40" font-size="6.40" stroke="#000" stroke-width="0.22">HF</text>
<polyline points="59.00,442.40 59.00,439.40 71.60,439.40 71.60,442.40" fill="none" stroke="#000" stroke-width="1.00" stroke-linejoin="round"/>
<text x="65.60" y="439.60" font-size="7.60" text-anchor="middle" font-weight="bold">****</text>
<polyline points="85.00,442.40 85.00,439.40 97.00,439.40 97.00,442.40" fill="none" stroke="#000" stroke-width="1.00" stroke-linejoin="round"/>
<text x="91.00" y="439.60" font-size="7.60" text-anchor="middle" font-weight="bold">****</text>
<text x="13.60" y="456.50" font-size="7.00" text-anchor="middle" stroke="#000" stroke-width="0.24" transform="rotate(-90 13.60 456.50)">Triglyceride (mg/dl)</text>
<text x="21.40" y="456.50" font-size="7.00" text-anchor="middle" stroke="#000" stroke-width="0.24" transform="rotate(-90 21.40 456.50)">per 100mg wet liver weight</text>
</g>
<g>
<text x="119.60" y="404.60" font-size="8.20" font-weight="bold">M</text>
<text x="217.00" y="400.00" font-size="6.90" text-anchor="middle" font-weight="bold">Chow</text>
<text x="315.80" y="400.00" font-size="6.90" text-anchor="middle" font-weight="bold">HF</text>
<text x="159.60" y="444.80" font-size="6.60" text-anchor="end" font-weight="bold">WT</text>
<text x="163.60" y="519.80" font-size="6.60" text-anchor="end" font-weight="bold">IL-4Ra<tspan font-size="4.49" dy="-2.24" stroke-width="0">-/-</tspan></text>
<rect x="166.40" y="402.20" width="100.30" height="75.20" fill="#d2aecb"/>
<rect x="166.40" y="402.20" width="100.30" height="75.20" fill="url(#gBlue)"/>
<rect x="166.40" y="402.20" width="100.30" height="75.20" filter="url(#nPink)"/>
<rect x="166.40" y="402.20" width="100.30" height="75.20" filter="url(#nCyan)"/>
<rect x="166.40" y="402.20" width="100.30" height="75.20" filter="url(#nPurp)"/>
<ellipse cx="188.2" cy="412.6" rx="1.8" ry="4.0" fill="#a6efee" transform="rotate(-20 188.2 412.6)"/>
<ellipse cx="260.4" cy="428.2" rx="2.8" ry="3.6" fill="#a6efee" transform="rotate(0 260.4 428.2)"/>
<ellipse cx="187.2" cy="427.6" rx="1.5" ry="2.2" fill="#a6efee" transform="rotate(0 187.2 427.6)"/>
<ellipse cx="201.6" cy="471.4" rx="2.0" ry="5.0" fill="#a6efee" transform="rotate(30 201.6 471.4)"/>
<rect x="266.70" y="402.20" width="100.60" height="75.20" fill="#dca2a2"/>
<rect x="266.70" y="402.20" width="100.60" height="75.20" fill="url(#gPale)"/>
<rect x="266.70" y="402.20" width="100.60" height="75.20" fill="url(#gRed)"/>
<rect x="266.70" y="402.20" width="100.60" height="75.20" filter="url(#nWhite2)"/>
<rect x="266.70" y="402.20" width="100.60" height="75.20" filter="url(#nRed)"/>
<rect x="266.70" y="402.20" width="100.60" height="75.20" filter="url(#nWhite)"/>
<rect x="266.70" y="402.20" width="100.60" height="75.20" filter="url(#nDark)"/>
<ellipse cx="345.0" cy="444.0" rx="1.6" ry="3.0" fill="#fbf4f2"/>
<ellipse cx="342.6" cy="424.4" rx="1.0" ry="2.2" fill="#fbf4f2"/>
<ellipse cx="270.0" cy="416.6" rx="1.6" ry="1.6" fill="#fbf4f2"/>
<ellipse cx="329.4" cy="423.0" rx="1.4" ry="1.4" fill="#fbf4f2"/>
<rect x="166.40" y="479.00" width="100.30" height="75.50" fill="#d9a2b8"/>
<rect x="166.40" y="479.00" width="100.30" height="75.50" filter="url(#nPink2)"/>
<rect x="166.40" y="479.00" width="100.30" height="75.50" filter="url(#nCyan2)"/>
<rect x="166.40" y="479.00" width="100.30" height="75.50" filter="url(#nPurp2)"/>
<rect x="266.70" y="479.00" width="100.60" height="75.50" fill="#dda2b2"/>
<rect x="266.70" y="479.00" width="100.60" height="75.50" fill="url(#gRed2)"/>
<rect x="266.70" y="479.00" width="100.60" height="75.50" fill="url(#gPale2)"/>
<rect x="266.70" y="479.00" width="100.60" height="75.50" filter="url(#nWhiteB2)"/>
<rect x="266.70" y="479.00" width="100.60" height="75.50" filter="url(#nRedB)"/>
<rect x="266.70" y="479.00" width="100.60" height="75.50" filter="url(#nWhiteB)"/>
<rect x="266.70" y="479.00" width="100.60" height="75.50" filter="url(#nDark)"/>
<ellipse cx="323.4" cy="538.0" rx="2.0" ry="3.2" fill="#fdf8f6"/>
<ellipse cx="283.0" cy="494.4" rx="1.8" ry="1.8" fill="#fdf8f6"/>
<ellipse cx="283.4" cy="533.6" rx="1.5" ry="1.5" fill="#fdf8f6"/>
<ellipse cx="299.0" cy="544.6" rx="1.4" ry="1.4" fill="#fdf8f6"/>
<ellipse cx="278.0" cy="511.0" rx="1.3" ry="1.3" fill="#fdf8f6"/>
<ellipse cx="366.0" cy="511.6" rx="1.2" ry="1.6" fill="#fdf8f6"/>
<rect x="166.40" y="402.20" width="100.30" height="75.20" fill="none" stroke="#111" stroke-width="0.70"/>
<rect x="166.40" y="479.00" width="100.30" height="75.50" fill="none" stroke="#111" stroke-width="0.70"/>
<rect x="266.70" y="402.20" width="100.60" height="75.20" fill="none" stroke="#000" stroke-width="1.00"/>
<rect x="266.70" y="479.00" width="100.60" height="75.50" fill="none" stroke="#000" stroke-width="1.00"/>
<text x="257.40" y="475.20" font-size="4.60" text-anchor="middle" font-weight="bold">20x</text>
<text x="357.80" y="475.20" font-size="4.60" text-anchor="middle" font-weight="bold">20x</text>
<text x="257.40" y="552.00" font-size="4.60" text-anchor="middle" font-weight="bold">20x</text>
<text x="357.80" y="552.00" font-size="4.60" text-anchor="middle" font-weight="bold">20x</text>
</g>
<g>
<text x="8.00" y="579.20" font-size="8.20" font-weight="bold">N</text>
<text x="55.00" y="579.00" font-size="7.60" text-anchor="middle" font-weight="bold" font-style="italic">Scd-1</text>
<line x1="27.90" y1="593.00" x2="27.90" y2="674.70" stroke="#000" stroke-width="1.30"/>
<line x1="25.55" y1="674.70" x2="27.90" y2="674.70" stroke="#000" stroke-width="1.30"/>
<text x="24.40" y="677.28" font-size="6.10" text-anchor="end" font-weight="bold">0</text>
<line x1="25.55" y1="654.43" x2="27.90" y2="654.43" stroke="#000" stroke-width="1.30"/>
<text x="24.40" y="657.01" font-size="6.10" text-anchor="end" font-weight="bold">2</text>
<line x1="25.55" y1="634.15" x2="27.90" y2="634.15" stroke="#000" stroke-width="1.30"/>
<text x="24.40" y="636.73" font-size="6.10" text-anchor="end" font-weight="bold">4</text>
<line x1="25.55" y1="613.88" x2="27.90" y2="613.88" stroke="#000" stroke-width="1.30"/>
<text x="24.40" y="616.46" font-size="6.10" text-anchor="end" font-weight="bold">6</text>
<line x1="25.55" y1="593.60" x2="27.90" y2="593.60" stroke="#000" stroke-width="1.30"/>
<text x="24.40" y="596.18" font-size="6.10" text-anchor="end" font-weight="bold">8</text>
<line x1="27.25" y1="674.70" x2="81.80" y2="674.70" stroke="#000" stroke-width="1.25"/>
<line x1="33.40" y1="679.30" x2="52.10" y2="679.30" stroke="#000" stroke-width="1.15"/>
<line x1="57.00" y1="679.30" x2="75.50" y2="679.30" stroke="#000" stroke-width="1.15"/>
<text x="42.40" y="686.60" font-size="5.80" text-anchor="middle" font-weight="bold">WT</text>
<text x="65.80" y="686.60" font-size="5.80" text-anchor="middle" font-weight="bold">IL-4Ra<tspan font-size="3.94" dy="-1.97" stroke-width="0">-/-</tspan></text>
<text x="6.80" y="634.50" font-size="6.90" text-anchor="middle" stroke="#000" stroke-width="0.23" transform="rotate(-90 6.80 634.50)">Ratio between Chow and HF</text>
<text x="15.40" y="634.50" font-size="6.78" text-anchor="middle" stroke="#000" stroke-width="0.23" transform="rotate(-90 15.40 634.50)">(Normalized to 18S and TBP)</text>
<line x1="36.00" y1="627.40" x2="53.00" y2="627.40" stroke="#000" stroke-width="0.90"/>
<line x1="44.50" y1="622.00" x2="44.50" y2="632.00" stroke="#000" stroke-width="0.60"/>
<line x1="41.00" y1="622.00" x2="48.00" y2="622.00" stroke="#000" stroke-width="0.55"/>
<line x1="41.00" y1="632.00" x2="48.00" y2="632.00" stroke="#000" stroke-width="0.55"/>
<line x1="57.40" y1="643.40" x2="73.60" y2="643.40" stroke="#000" stroke-width="0.90"/>
<line x1="65.50" y1="637.40" x2="65.50" y2="650.00" stroke="#000" stroke-width="0.60"/>
<line x1="61.70" y1="637.40" x2="69.30" y2="637.40" stroke="#000" stroke-width="0.55"/>
<line x1="61.70" y1="650.00" x2="69.30" y2="650.00" stroke="#000" stroke-width="0.55"/>
<rect x="40.80" y="615.40" width="2.40" height="2.40" fill="#000"/>
<rect x="45.80" y="614.20" width="2.40" height="2.40" fill="#000"/>
<rect x="40.80" y="622.80" width="2.40" height="2.40" fill="#000"/>
<rect x="46.20" y="622.20" width="2.40" height="2.40" fill="#000"/>
<rect x="43.20" y="635.20" width="2.40" height="2.40" fill="#000"/>
<rect x="43.20" y="644.20" width="2.40" height="2.40" fill="#000"/>
<circle cx="63.00" cy="635.60" r="1.30" fill="#000"/>
<circle cx="68.00" cy="634.40" r="1.30" fill="#000"/>
<circle cx="65.40" cy="643.40" r="1.30" fill="#000"/>
<circle cx="65.40" cy="662.00" r="1.30" fill="#000"/>
<text x="120.60" y="579.20" font-size="8.20" font-weight="bold">O</text>
<text x="157.40" y="579.00" font-size="7.60" text-anchor="middle" font-weight="bold" font-style="italic">Fasn</text>
<line x1="130.90" y1="593.00" x2="130.90" y2="674.70" stroke="#000" stroke-width="1.30"/>
<line x1="128.55" y1="674.70" x2="130.90" y2="674.70" stroke="#000" stroke-width="1.30"/>
<text x="127.20" y="677.28" font-size="6.10" text-anchor="end" font-weight="bold">0</text>
<line x1="128.55" y1="654.43" x2="130.90" y2="654.43" stroke="#000" stroke-width="1.30"/>
<text x="127.20" y="657.01" font-size="6.10" text-anchor="end" font-weight="bold">1</text>
<line x1="128.55" y1="634.15" x2="130.90" y2="634.15" stroke="#000" stroke-width="1.30"/>
<text x="127.20" y="636.73" font-size="6.10" text-anchor="end" font-weight="bold">2</text>
<line x1="128.55" y1="613.88" x2="130.90" y2="613.88" stroke="#000" stroke-width="1.30"/>
<text x="127.20" y="616.46" font-size="6.10" text-anchor="end" font-weight="bold">3</text>
<line x1="128.55" y1="593.60" x2="130.90" y2="593.60" stroke="#000" stroke-width="1.30"/>
<text x="127.20" y="596.18" font-size="6.10" text-anchor="end" font-weight="bold">4</text>
<line x1="130.25" y1="674.70" x2="184.20" y2="674.70" stroke="#000" stroke-width="1.25"/>
<line x1="136.00" y1="679.30" x2="154.50" y2="679.30" stroke="#000" stroke-width="1.15"/>
<line x1="159.80" y1="679.30" x2="178.10" y2="679.30" stroke="#000" stroke-width="1.15"/>
<text x="144.40" y="686.60" font-size="5.80" text-anchor="middle" font-weight="bold">WT</text>
<text x="168.80" y="686.60" font-size="5.80" text-anchor="middle" font-weight="bold">IL-4Ra<tspan font-size="3.94" dy="-1.97" stroke-width="0">-/-</tspan></text>
<text x="107.80" y="634.50" font-size="6.90" text-anchor="middle" stroke="#000" stroke-width="0.23" transform="rotate(-90 107.80 634.50)">Ratio between Chow and HF</text>
<text x="116.20" y="634.50" font-size="6.78" text-anchor="middle" stroke="#000" stroke-width="0.23" transform="rotate(-90 116.20 634.50)">(Normalized to 18S and TBP)</text>
<line x1="138.40" y1="628.40" x2="154.40" y2="628.40" stroke="#000" stroke-width="0.90"/>
<line x1="146.40" y1="622.60" x2="146.40" y2="634.40" stroke="#000" stroke-width="0.60"/>
<line x1="142.40" y1="622.60" x2="150.40" y2="622.60" stroke="#000" stroke-width="0.55"/>
<line x1="142.40" y1="634.40" x2="150.40" y2="634.40" stroke="#000" stroke-width="0.55"/>
<line x1="159.40" y1="636.40" x2="175.60" y2="636.40" stroke="#000" stroke-width="0.90"/>
<line x1="167.50" y1="628.40" x2="167.50" y2="644.00" stroke="#000" stroke-width="0.60"/>
<line x1="163.50" y1="628.40" x2="171.50" y2="628.40" stroke="#000" stroke-width="0.55"/>
<line x1="163.50" y1="644.00" x2="171.50" y2="644.00" stroke="#000" stroke-width="0.55"/>
<rect x="145.20" y="608.40" width="2.40" height="2.40" fill="#000"/>
<rect x="145.20" y="613.20" width="2.40" height="2.40" fill="#000"/>
<rect x="145.20" y="625.40" width="2.40" height="2.40" fill="#000"/>
<rect x="142.80" y="634.80" width="2.40" height="2.40" fill="#000"/>
<rect x="147.80" y="634.80" width="2.40" height="2.40" fill="#000"/>
<rect x="145.20" y="645.80" width="2.40" height="2.40" fill="#000"/>
<circle cx="167.60" cy="618.40" r="1.30" fill="#000"/>
<circle cx="167.60" cy="632.00" r="1.30" fill="#000"/>
<circle cx="167.60" cy="640.00" r="1.30" fill="#000"/>
<circle cx="167.60" cy="655.40" r="1.30" fill="#000"/>
<text x="217.60" y="579.20" font-size="8.20" font-weight="bold">P</text>
<text x="258.00" y="579.00" font-size="7.60" text-anchor="middle" font-weight="bold" font-style="italic">Cpt1a</text>
<line x1="231.30" y1="593.00" x2="231.30" y2="674.70" stroke="#000" stroke-width="1.30"/>
<line x1="228.95" y1="674.70" x2="231.30" y2="674.70" stroke="#000" stroke-width="1.30"/>
<text x="227.60" y="677.28" font-size="6.10" text-anchor="end" font-weight="bold">0.0</text>
<line x1="228.95" y1="654.43" x2="231.30" y2="654.43" stroke="#000" stroke-width="1.30"/>
<text x="227.60" y="657.01" font-size="6.10" text-anchor="end" font-weight="bold">0.5</text>
<line x1="228.95" y1="634.15" x2="231.30" y2="634.15" stroke="#000" stroke-width="1.30"/>
<text x="227.60" y="636.73" font-size="6.10" text-anchor="end" font-weight="bold">1.0</text>
<line x1="228.95" y1="613.88" x2="231.30" y2="613.88" stroke="#000" stroke-width="1.30"/>
<text x="227.60" y="616.46" font-size="6.10" text-anchor="end" font-weight="bold">1.5</text>
<line x1="228.95" y1="593.60" x2="231.30" y2="593.60" stroke="#000" stroke-width="1.30"/>
<text x="227.60" y="596.18" font-size="6.10" text-anchor="end" font-weight="bold">2.0</text>
<line x1="230.65" y1="674.70" x2="285.20" y2="674.70" stroke="#000" stroke-width="1.25"/>
<line x1="238.40" y1="679.30" x2="257.50" y2="679.30" stroke="#000" stroke-width="1.15"/>
<line x1="262.00" y1="679.30" x2="280.90" y2="679.30" stroke="#000" stroke-width="1.15"/>
<text x="247.00" y="686.60" font-size="5.80" text-anchor="middle" font-weight="bold">WT</text>
<text x="271.20" y="686.60" font-size="5.80" text-anchor="middle" font-weight="bold">IL-4Ra<tspan font-size="3.94" dy="-1.97" stroke-width="0">-/-</tspan></text>
<text x="203.80" y="634.50" font-size="6.90" text-anchor="middle" stroke="#000" stroke-width="0.23" transform="rotate(-90 203.80 634.50)">Ratio between Chow and HF</text>
<text x="211.80" y="634.50" font-size="6.78" text-anchor="middle" stroke="#000" stroke-width="0.23" transform="rotate(-90 211.80 634.50)">(Normalized to 18S and TBP)</text>
<line x1="239.00" y1="624.00" x2="255.60" y2="624.00" stroke="#000" stroke-width="0.90"/>
<line x1="247.30" y1="617.60" x2="247.30" y2="630.60" stroke="#000" stroke-width="0.60"/>
<line x1="243.10" y1="617.60" x2="251.50" y2="617.60" stroke="#000" stroke-width="0.55"/>
<line x1="243.10" y1="630.60" x2="251.50" y2="630.60" stroke="#000" stroke-width="0.55"/>
<line x1="260.40" y1="651.40" x2="276.60" y2="651.40" stroke="#000" stroke-width="0.90"/>
<line x1="268.50" y1="649.00" x2="268.50" y2="654.00" stroke="#000" stroke-width="0.60"/>
<line x1="265.00" y1="649.00" x2="272.00" y2="649.00" stroke="#000" stroke-width="0.55"/>
<line x1="265.00" y1="654.00" x2="272.00" y2="654.00" stroke="#000" stroke-width="0.55"/>
<rect x="243.20" y="607.20" width="2.40" height="2.40" fill="#000"/>
<rect x="248.40" y="607.20" width="2.40" height="2.40" fill="#000"/>
<rect x="246.00" y="614.40" width="2.40" height="2.40" fill="#000"/>
<rect x="246.00" y="625.80" width="2.40" height="2.40" fill="#000"/>
<rect x="243.20" y="642.40" width="2.40" height="2.40" fill="#000"/>
<rect x="248.40" y="641.40" width="2.40" height="2.40" fill="#000"/>
<circle cx="268.40" cy="646.60" r="1.30" fill="#000"/>
<circle cx="265.60" cy="654.40" r="1.30" fill="#000"/>
<circle cx="271.00" cy="654.00" r="1.30" fill="#000"/>
<circle cx="268.40" cy="650.60" r="1.30" fill="#000"/>
<polyline points="250.00,603.20 250.00,600.40 265.60,600.40 265.60,603.20" fill="none" stroke="#000" stroke-width="0.90" stroke-linejoin="round"/>
<text x="257.80" y="601.70" font-size="7.80" text-anchor="middle" font-weight="bold">**</text>
<text x="316.60" y="579.20" font-size="8.20" font-weight="bold">Q</text>
<text x="359.00" y="579.00" font-size="7.60" text-anchor="middle" font-weight="bold" font-style="italic">Acadvl</text>
<line x1="332.30" y1="593.00" x2="332.30" y2="674.70" stroke="#000" stroke-width="1.30"/>
<line x1="329.95" y1="674.70" x2="332.30" y2="674.70" stroke="#000" stroke-width="1.30"/>
<text x="328.60" y="677.28" font-size="6.10" text-anchor="end" font-weight="bold">0.0</text>
<line x1="329.95" y1="647.67" x2="332.30" y2="647.67" stroke="#000" stroke-width="1.30"/>
<text x="328.60" y="650.25" font-size="6.10" text-anchor="end" font-weight="bold">0.5</text>
<line x1="329.95" y1="620.63" x2="332.30" y2="620.63" stroke="#000" stroke-width="1.30"/>
<text x="328.60" y="623.21" font-size="6.10" text-anchor="end" font-weight="bold">1.0</text>
<line x1="329.95" y1="593.60" x2="332.30" y2="593.60" stroke="#000" stroke-width="1.30"/>
<text x="328.60" y="596.18" font-size="6.10" text-anchor="end" font-weight="bold">1.5</text>
<line x1="331.65" y1="674.70" x2="386.20" y2="674.70" stroke="#000" stroke-width="1.25"/>
<line x1="337.00" y1="679.30" x2="355.50" y2="679.30" stroke="#000" stroke-width="1.15"/>
<line x1="361.00" y1="679.30" x2="379.50" y2="679.30" stroke="#000" stroke-width="1.15"/>
<text x="345.60" y="686.60" font-size="5.80" text-anchor="middle" font-weight="bold">WT</text>
<text x="370.20" y="686.60" font-size="5.80" text-anchor="middle" font-weight="bold">IL-4Ra<tspan font-size="3.94" dy="-1.97" stroke-width="0">-/-</tspan></text>
<text x="304.20" y="634.50" font-size="6.90" text-anchor="middle" stroke="#000" stroke-width="0.23" transform="rotate(-90 304.20 634.50)">Ratio between Chow and HF</text>
<text x="312.80" y="634.50" font-size="6.78" text-anchor="middle" stroke="#000" stroke-width="0.23" transform="rotate(-90 312.80 634.50)">(Normalized to 18S and TBP)</text>
<line x1="340.00" y1="614.40" x2="357.00" y2="614.40" stroke="#000" stroke-width="0.90"/>
<line x1="348.50" y1="607.40" x2="348.50" y2="621.60" stroke="#000" stroke-width="0.60"/>
<line x1="344.20" y1="607.40" x2="352.80" y2="607.40" stroke="#000" stroke-width="0.55"/>
<line x1="344.20" y1="621.60" x2="352.80" y2="621.60" stroke="#000" stroke-width="0.55"/>
<line x1="361.00" y1="642.40" x2="378.00" y2="642.40" stroke="#000" stroke-width="0.90"/>
<line x1="369.50" y1="638.40" x2="369.50" y2="646.60" stroke="#000" stroke-width="0.60"/>
<line x1="365.40" y1="638.40" x2="373.60" y2="638.40" stroke="#000" stroke-width="0.55"/>
<line x1="365.40" y1="646.60" x2="373.60" y2="646.60" stroke="#000" stroke-width="0.55"/>
<rect x="347.40" y="597.20" width="2.40" height="2.40" fill="#000"/>
<rect x="347.40" y="600.00" width="2.40" height="2.40" fill="#000"/>
<rect x="347.40" y="609.20" width="2.40" height="2.40" fill="#000"/>
<rect x="347.40" y="621.20" width="2.40" height="2.40" fill="#000"/>
<rect x="347.40" y="630.20" width="2.40" height="2.40" fill="#000"/>
<rect x="347.40" y="640.20" width="2.40" height="2.40" fill="#000"/>
<circle cx="369.40" cy="633.40" r="1.30" fill="#000"/>
<circle cx="367.00" cy="641.60" r="1.30" fill="#000"/>
<circle cx="372.00" cy="641.60" r="1.30" fill="#000"/>
<circle cx="369.40" cy="654.00" r="1.30" fill="#000"/>
<polyline points="351.60,593.40 351.60,590.60 366.60,590.60 366.60,593.40" fill="none" stroke="#000" stroke-width="0.90" stroke-linejoin="round"/>
<text x="359.10" y="591.90" font-size="7.80" text-anchor="middle" font-weight="bold">*</text>
<line x1="0.00" y1="695.60" x2="395.60" y2="695.60" stroke="#000" stroke-width="1.00"/>
<text x="191.40" y="703.90" font-size="6.90" text-anchor="middle" font-weight="bold">HF</text>
</g>
<g>
<text x="408.20" y="579.20" font-size="8.20" font-weight="bold">R</text>
<line x1="430.00" y1="585.80" x2="430.00" y2="674.00" stroke="#000" stroke-width="1.30"/>
<line x1="427.65" y1="674.00" x2="430.00" y2="674.00" stroke="#000" stroke-width="1.30"/>
<text x="426.20" y="676.19" font-size="6.30" text-anchor="end" font-weight="bold">0</text>
<line x1="427.65" y1="644.80" x2="430.00" y2="644.80" stroke="#000" stroke-width="1.30"/>
<text x="426.20" y="646.99" font-size="6.30" text-anchor="end" font-weight="bold">200</text>
<line x1="427.65" y1="615.60" x2="430.00" y2="615.60" stroke="#000" stroke-width="1.30"/>
<text x="426.20" y="617.79" font-size="6.30" text-anchor="end" font-weight="bold">400</text>
<line x1="427.65" y1="586.40" x2="430.00" y2="586.40" stroke="#000" stroke-width="1.30"/>
<text x="426.20" y="588.59" font-size="6.30" text-anchor="end" font-weight="bold">600</text>
<line x1="429.35" y1="674.00" x2="489.20" y2="674.00" stroke="#000" stroke-width="1.25"/>
<rect x="433.25" y="659.61" width="7.50" height="14.39" fill="#fff" stroke="#000" stroke-width="1.30"/>
<rect x="447.40" y="628.01" width="9.20" height="45.99" fill="#000"/>
<rect x="462.65" y="663.26" width="8.10" height="10.74" fill="#fff" stroke="#000" stroke-width="1.30"/>
<rect x="477.00" y="639.54" width="9.40" height="34.46" fill="#000"/>
<circle cx="437.00" cy="659.40" r="2.00" fill="#fff" stroke="#000" stroke-width="0.95"/>
<circle cx="439.25" cy="661.59" r="2.00" fill="#fff" stroke="#000" stroke-width="0.95"/>
<circle cx="439.25" cy="657.21" r="2.00" fill="#fff" stroke="#000" stroke-width="0.95"/>
<circle cx="436.25" cy="663.05" r="2.00" fill="#fff" stroke="#000" stroke-width="0.95"/>
<circle cx="436.25" cy="655.75" r="2.00" fill="#fff" stroke="#000" stroke-width="0.95"/>
<circle cx="434.00" cy="660.86" r="2.00" fill="#fff" stroke="#000" stroke-width="0.95"/>
<circle cx="439.25" cy="654.29" r="2.00" fill="#fff" stroke="#000" stroke-width="0.95"/>
<circle cx="437.00" cy="645.53" r="2.00" fill="#fff" stroke="#000" stroke-width="0.95"/>
<circle cx="438.50" cy="663.78" r="2.00" fill="#fff" stroke="#000" stroke-width="0.95"/>
<circle cx="434.75" cy="658.67" r="2.00" fill="#fff" stroke="#000" stroke-width="0.95"/>
<circle cx="452.00" cy="628.01" r="2.00" fill="#8a8a8a" stroke="#000" stroke-width="0.95"/>
<circle cx="454.25" cy="630.20" r="2.00" fill="#8a8a8a" stroke="#000" stroke-width="0.95"/>
<circle cx="452.00" cy="625.09" r="2.00" fill="#8a8a8a" stroke="#000" stroke-width="0.95"/>
<circle cx="452.00" cy="633.12" r="2.00" fill="#8a8a8a" stroke="#000" stroke-width="0.95"/>
<circle cx="454.25" cy="622.90" r="2.00" fill="#8a8a8a" stroke="#000" stroke-width="0.95"/>
<circle cx="452.00" cy="636.04" r="2.00" fill="#8a8a8a" stroke="#000" stroke-width="0.95"/>
<circle cx="452.00" cy="619.98" r="2.00" fill="#8a8a8a" stroke="#000" stroke-width="0.95"/>
<circle cx="452.00" cy="638.96" r="2.00" fill="#8a8a8a" stroke="#000" stroke-width="0.95"/>
<circle cx="452.00" cy="617.06" r="2.00" fill="#8a8a8a" stroke="#000" stroke-width="0.95"/>
<circle cx="452.00" cy="641.88" r="2.00" fill="#8a8a8a" stroke="#000" stroke-width="0.95"/>
<circle cx="455.00" cy="616.33" r="2.00" fill="#8a8a8a" stroke="#000" stroke-width="0.95"/>
<circle cx="449.75" cy="614.87" r="2.00" fill="#8a8a8a" stroke="#000" stroke-width="0.95"/>
<circle cx="455.00" cy="627.28" r="2.00" fill="#8a8a8a" stroke="#000" stroke-width="0.95"/>
<circle cx="466.70" cy="662.61" r="2.00" fill="#fff" stroke="#000" stroke-width="0.95"/>
<circle cx="469.70" cy="663.78" r="2.00" fill="#fff" stroke="#000" stroke-width="0.95"/>
<circle cx="463.70" cy="661.15" r="2.00" fill="#fff" stroke="#000" stroke-width="0.95"/>
<circle cx="464.45" cy="664.51" r="2.00" fill="#fff" stroke="#000" stroke-width="0.95"/>
<circle cx="468.20" cy="660.13" r="2.00" fill="#fff" stroke="#000" stroke-width="0.95"/>
<circle cx="467.45" cy="665.24" r="2.00" fill="#fff" stroke="#000" stroke-width="0.95"/>
<circle cx="466.70" cy="655.75" r="2.00" fill="#fff" stroke="#000" stroke-width="0.95"/>
<circle cx="468.95" cy="662.03" r="2.00" fill="#fff" stroke="#000" stroke-width="0.95"/>
<circle cx="463.70" cy="663.05" r="2.00" fill="#fff" stroke="#000" stroke-width="0.95"/>
<circle cx="481.70" cy="639.54" r="2.00" fill="#8a8a8a" stroke="#000" stroke-width="0.95"/>
<circle cx="483.95" cy="641.88" r="2.00" fill="#8a8a8a" stroke="#000" stroke-width="0.95"/>
<circle cx="483.95" cy="637.50" r="2.00" fill="#8a8a8a" stroke="#000" stroke-width="0.95"/>
<circle cx="481.70" cy="644.80" r="2.00" fill="#8a8a8a" stroke="#000" stroke-width="0.95"/>
<circle cx="481.70" cy="635.31" r="2.00" fill="#8a8a8a" stroke="#000" stroke-width="0.95"/>
<circle cx="481.70" cy="647.72" r="2.00" fill="#8a8a8a" stroke="#000" stroke-width="0.95"/>
<circle cx="481.70" cy="650.64" r="2.00" fill="#8a8a8a" stroke="#000" stroke-width="0.95"/>
<circle cx="481.70" cy="625.82" r="2.00" fill="#8a8a8a" stroke="#000" stroke-width="0.95"/>
<circle cx="484.70" cy="625.09" r="2.00" fill="#8a8a8a" stroke="#000" stroke-width="0.95"/>
<circle cx="478.70" cy="640.42" r="2.00" fill="#8a8a8a" stroke="#000" stroke-width="0.95"/>
<circle cx="479.45" cy="638.23" r="2.00" fill="#8a8a8a" stroke="#000" stroke-width="0.95"/>
<circle cx="478.70" cy="643.34" r="2.00" fill="#8a8a8a" stroke="#000" stroke-width="0.95"/>
<line x1="434.40" y1="678.90" x2="454.10" y2="678.90" stroke="#000" stroke-width="1.30"/>
<line x1="464.80" y1="678.90" x2="484.50" y2="678.90" stroke="#000" stroke-width="1.30"/>
<text x="444.80" y="688.00" font-size="6.40" text-anchor="middle" font-weight="bold">WT</text>
<text x="474.40" y="688.00" font-size="6.40" text-anchor="middle" font-weight="bold">IL-4Ra<tspan font-size="4.35" dy="-2.18" stroke-width="0">-/-</tspan></text>
<circle cx="436.60" cy="588.00" r="1.70" fill="#fff" stroke="#000" stroke-width="1.15"/>
<circle cx="436.60" cy="594.00" r="1.70" fill="#8a8a8a" stroke="#000" stroke-width="1.15"/>
<text x="447.00" y="590.20" font-size="6.60" stroke="#000" stroke-width="0.22">Chow</text>
<text x="447.00" y="596.20" font-size="6.60" stroke="#000" stroke-width="0.22">HF</text>
<polyline points="451.60,611.40 451.60,608.40 481.60,608.40 481.60,611.40" fill="none" stroke="#000" stroke-width="1.00" stroke-linejoin="round"/>
<text x="467.00" y="609.10" font-size="8.30" text-anchor="middle" font-weight="bold">*</text>
<text x="403.20" y="630.00" font-size="6.80" text-anchor="middle" font-weight="bold" transform="rotate(-90 403.20 630.00)">ALT (IU/ml)</text>
</g>
</svg>
</body></html>
